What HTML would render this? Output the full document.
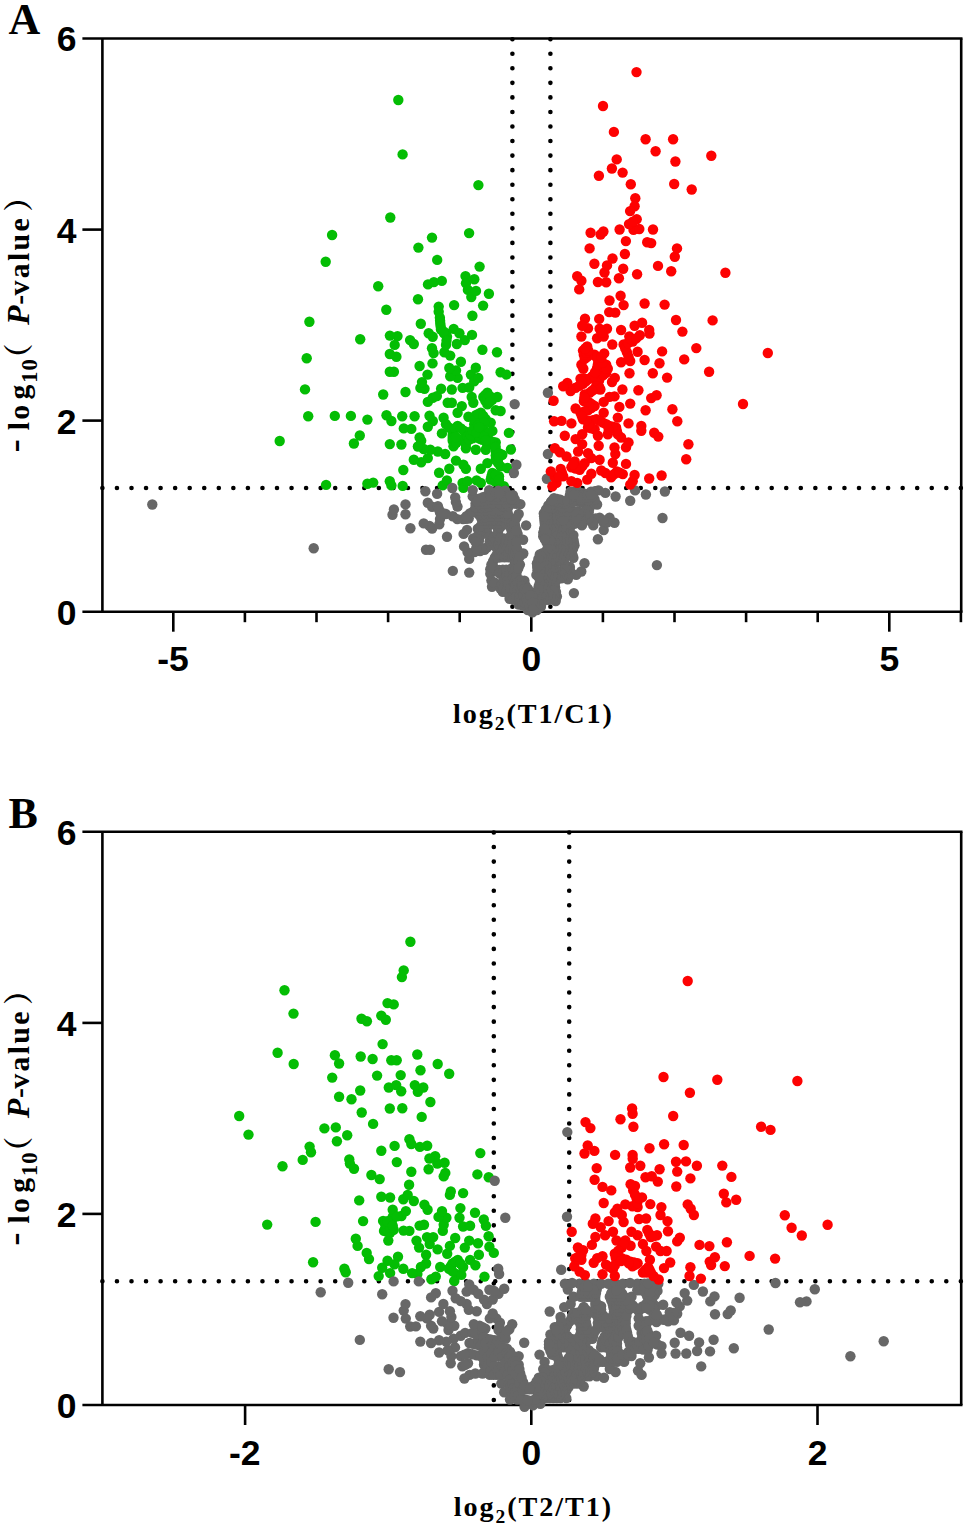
<!DOCTYPE html>
<html lang="en"><head><meta charset="utf-8"><title>Volcano plots</title>
<style>html,body{margin:0;padding:0;background:#fff}svg{display:block}</style></head><body>
<svg width="967" height="1528" viewBox="0 0 967 1528">
<rect width="967" height="1528" fill="#fff"/>
<g stroke="#000" stroke-width="4.6" stroke-linecap="round" stroke-dasharray="0 14.55" fill="none">
<path d="M102.4 488.0H961.2"/>
<path d="M512.4 39.2V611.7"/>
<path d="M550.4 39.2V611.7"/>
</g>
<g stroke="#000" stroke-width="2.6" fill="none" stroke-linecap="butt">
<path d="M82.4 38.5H962.5"/>
<path d="M102.4 38.5V611.7"/>
<path d="M961.2 38.5V611.7"/>
<path d="M82.4 611.7H962.5"/>
<path d="M82.4 420.6H102.4"/>
<path d="M82.4 229.6H102.4"/>
<path d="M173.3 611.7V631.7"/>
<path d="M531.3 611.7V631.7"/>
<path d="M889.3 611.7V631.7"/>
<path d="M244.9 611.7V622.2"/>
<path d="M316.5 611.7V622.2"/>
<path d="M388.1 611.7V622.2"/>
<path d="M459.7 611.7V622.2"/>
<path d="M602.9 611.7V622.2"/>
<path d="M674.5 611.7V622.2"/>
<path d="M746.1 611.7V622.2"/>
<path d="M817.7 611.7V622.2"/>
<path d="M960.9 611.7V622.2"/>
</g>
<g fill="#04bd04">
<circle cx="441.9" cy="433.4" r="5.2"/><circle cx="410.1" cy="340.1" r="5.2"/><circle cx="443.6" cy="417.7" r="5.2"/><circle cx="397.5" cy="336.1" r="5.2"/><circle cx="446.0" cy="424.3" r="5.2"/><circle cx="432.8" cy="397.8" r="5.2"/><circle cx="432.8" cy="421.0" r="5.2"/><circle cx="447.7" cy="402.8" r="5.2"/><circle cx="436.9" cy="396.1" r="5.2"/><circle cx="389.9" cy="335.6" r="5.2"/><circle cx="429.5" cy="415.7" r="5.2"/><circle cx="418.0" cy="299.2" r="5.2"/><circle cx="420.8" cy="323.7" r="5.2"/><circle cx="402.6" cy="154.4" r="5.2"/><circle cx="451.8" cy="402.8" r="5.2"/><circle cx="427.8" cy="401.9" r="5.2"/><circle cx="427.8" cy="426.8" r="5.2"/><circle cx="452.7" cy="430.9" r="5.2"/><circle cx="452.7" cy="440.8" r="5.2"/><circle cx="386.3" cy="309.7" r="5.2"/><circle cx="390.3" cy="217.5" r="5.2"/><circle cx="451.8" cy="389.5" r="5.2"/><circle cx="424.5" cy="388.7" r="5.2"/><circle cx="441.1" cy="388.7" r="5.2"/><circle cx="428.7" cy="333.2" r="5.2"/><circle cx="457.6" cy="412.7" r="5.2"/><circle cx="457.6" cy="425.9" r="5.2"/><circle cx="421.2" cy="440.8" r="5.2"/><circle cx="432.7" cy="336.8" r="5.2"/><circle cx="459.3" cy="439.2" r="5.2"/><circle cx="420.4" cy="387.9" r="5.2"/><circle cx="442.7" cy="485.4" r="5.2"/><circle cx="279.7" cy="441.0" r="5.2"/><circle cx="378.2" cy="286.3" r="5.2"/><circle cx="419.6" cy="437.5" r="5.2"/><circle cx="428.0" cy="284.4" r="5.2"/><circle cx="461.8" cy="406.1" r="5.2"/><circle cx="462.6" cy="387.9" r="5.2"/><circle cx="462.6" cy="482.9" r="5.2"/><circle cx="433.9" cy="282.1" r="5.2"/><circle cx="422.0" cy="382.1" r="5.2"/><circle cx="438.7" cy="306.6" r="5.2"/><circle cx="438.7" cy="311.8" r="5.2"/><circle cx="463.4" cy="487.9" r="5.2"/><circle cx="439.9" cy="317.7" r="5.2"/><circle cx="464.2" cy="430.9" r="5.2"/><circle cx="440.3" cy="323.7" r="5.2"/><circle cx="446.9" cy="480.4" r="5.2"/><circle cx="441.0" cy="329.6" r="5.2"/><circle cx="414.6" cy="416.3" r="5.2"/><circle cx="441.8" cy="280.9" r="5.2"/><circle cx="465.9" cy="440.8" r="5.2"/><circle cx="457.6" cy="377.9" r="5.2"/><circle cx="467.5" cy="481.3" r="5.2"/><circle cx="468.4" cy="416.8" r="5.2"/><circle cx="411.3" cy="428.9" r="5.2"/><circle cx="450.2" cy="376.3" r="5.2"/><circle cx="447.0" cy="336.8" r="5.2"/><circle cx="469.2" cy="387.5" r="5.2"/><circle cx="469.2" cy="432.5" r="5.2"/><circle cx="427.5" cy="374.6" r="5.2"/><circle cx="470.9" cy="374.6" r="5.2"/><circle cx="360.2" cy="339.2" r="5.2"/><circle cx="471.7" cy="397.0" r="5.2"/><circle cx="439.1" cy="472.7" r="5.2"/><circle cx="473.3" cy="402.8" r="5.2"/><circle cx="453.7" cy="328.9" r="5.2"/><circle cx="454.1" cy="305.1" r="5.2"/><circle cx="474.2" cy="381.3" r="5.2"/><circle cx="474.2" cy="424.3" r="5.2"/><circle cx="405.5" cy="392.0" r="5.2"/><circle cx="456.0" cy="370.5" r="5.2"/><circle cx="475.8" cy="415.2" r="5.2"/><circle cx="403.8" cy="428.4" r="5.2"/><circle cx="449.3" cy="468.8" r="5.2"/><circle cx="465.9" cy="468.8" r="5.2"/><circle cx="403.3" cy="470.0" r="5.2"/><circle cx="476.6" cy="480.4" r="5.2"/><circle cx="305.0" cy="389.4" r="5.2"/><circle cx="449.3" cy="368.0" r="5.2"/><circle cx="475.8" cy="367.7" r="5.2"/><circle cx="402.7" cy="485.9" r="5.2"/><circle cx="477.5" cy="437.5" r="5.2"/><circle cx="459.4" cy="333.2" r="5.2"/><circle cx="402.2" cy="416.3" r="5.2"/><circle cx="437.2" cy="259.9" r="5.2"/><circle cx="478.3" cy="377.9" r="5.2"/><circle cx="401.4" cy="444.5" r="5.2"/><circle cx="308.2" cy="416.2" r="5.2"/><circle cx="419.6" cy="366.0" r="5.2"/><circle cx="463.4" cy="464.7" r="5.2"/><circle cx="480.8" cy="412.7" r="5.2"/><circle cx="480.8" cy="482.9" r="5.2"/><circle cx="480.8" cy="468.8" r="5.2"/><circle cx="306.7" cy="358.3" r="5.2"/><circle cx="464.8" cy="340.1" r="5.2"/><circle cx="432.5" cy="363.4" r="5.2"/><circle cx="465.5" cy="276.1" r="5.2"/><circle cx="466.0" cy="283.3" r="5.2"/><circle cx="482.4" cy="425.9" r="5.2"/><circle cx="421.2" cy="462.2" r="5.2"/><circle cx="460.9" cy="361.7" r="5.2"/><circle cx="483.3" cy="397.0" r="5.2"/><circle cx="467.9" cy="289.9" r="5.2"/><circle cx="456.0" cy="460.6" r="5.2"/><circle cx="413.8" cy="459.7" r="5.2"/><circle cx="485.7" cy="419.3" r="5.2"/><circle cx="485.7" cy="434.2" r="5.2"/><circle cx="471.3" cy="297.1" r="5.2"/><circle cx="393.9" cy="371.7" r="5.2"/><circle cx="472.0" cy="334.9" r="5.2"/><circle cx="418.4" cy="247.6" r="5.2"/><circle cx="472.4" cy="315.8" r="5.2"/><circle cx="427.8" cy="458.1" r="5.2"/><circle cx="487.4" cy="392.8" r="5.2"/><circle cx="487.4" cy="404.4" r="5.2"/><circle cx="487.4" cy="463.1" r="5.2"/><circle cx="474.3" cy="279.2" r="5.2"/><circle cx="396.4" cy="356.8" r="5.2"/><circle cx="391.4" cy="421.0" r="5.2"/><circle cx="391.4" cy="485.4" r="5.2"/><circle cx="489.1" cy="440.8" r="5.2"/><circle cx="476.0" cy="290.9" r="5.2"/><circle cx="450.2" cy="355.6" r="5.2"/><circle cx="478.4" cy="185.1" r="5.2"/><circle cx="389.8" cy="371.7" r="5.2"/><circle cx="389.8" cy="444.1" r="5.2"/><circle cx="389.8" cy="481.3" r="5.2"/><circle cx="490.7" cy="422.6" r="5.2"/><circle cx="490.7" cy="479.6" r="5.2"/><circle cx="326.1" cy="484.9" r="5.2"/><circle cx="398.3" cy="100.0" r="5.2"/><circle cx="389.8" cy="354.0" r="5.2"/><circle cx="445.2" cy="454.0" r="5.2"/><circle cx="479.6" cy="266.6" r="5.2"/><circle cx="433.6" cy="353.1" r="5.2"/><circle cx="492.4" cy="399.5" r="5.2"/><circle cx="492.4" cy="430.9" r="5.2"/><circle cx="492.4" cy="473.0" r="5.2"/><circle cx="444.4" cy="352.3" r="5.2"/><circle cx="386.5" cy="415.2" r="5.2"/><circle cx="437.8" cy="451.5" r="5.2"/><circle cx="432.0" cy="237.6" r="5.2"/><circle cx="483.1" cy="305.6" r="5.2"/><circle cx="325.7" cy="261.8" r="5.2"/><circle cx="482.4" cy="349.8" r="5.2"/><circle cx="430.3" cy="449.8" r="5.2"/><circle cx="475.8" cy="449.8" r="5.2"/><circle cx="485.7" cy="449.8" r="5.2"/><circle cx="332.1" cy="235.0" r="5.2"/><circle cx="495.7" cy="410.2" r="5.2"/><circle cx="495.7" cy="442.5" r="5.2"/><circle cx="495.7" cy="451.5" r="5.2"/><circle cx="495.7" cy="459.7" r="5.2"/><circle cx="423.7" cy="449.0" r="5.2"/><circle cx="334.8" cy="415.9" r="5.2"/><circle cx="383.2" cy="394.5" r="5.2"/><circle cx="432.0" cy="348.2" r="5.2"/><circle cx="465.9" cy="448.2" r="5.2"/><circle cx="469.1" cy="233.1" r="5.2"/><circle cx="497.0" cy="352.3" r="5.2"/><circle cx="497.3" cy="397.0" r="5.2"/><circle cx="488.9" cy="293.7" r="5.2"/><circle cx="417.9" cy="446.5" r="5.2"/><circle cx="453.5" cy="446.2" r="5.2"/><circle cx="499.0" cy="476.3" r="5.2"/><circle cx="499.0" cy="482.9" r="5.2"/><circle cx="394.7" cy="344.9" r="5.2"/><circle cx="446.0" cy="344.9" r="5.2"/><circle cx="500.6" cy="372.2" r="5.2"/><circle cx="500.6" cy="411.0" r="5.2"/><circle cx="500.6" cy="466.4" r="5.2"/><circle cx="413.8" cy="344.0" r="5.2"/><circle cx="456.8" cy="344.0" r="5.2"/><circle cx="502.3" cy="454.8" r="5.2"/><circle cx="503.9" cy="486.2" r="5.2"/><circle cx="482.4" cy="439.9" r="5.2"/><circle cx="309.4" cy="321.8" r="5.2"/><circle cx="506.4" cy="374.6" r="5.2"/><circle cx="373.2" cy="482.6" r="5.2"/><circle cx="472.5" cy="438.2" r="5.2"/><circle cx="507.3" cy="468.0" r="5.2"/><circle cx="350.9" cy="415.9" r="5.2"/><circle cx="508.9" cy="432.9" r="5.2"/><circle cx="353.9" cy="443.5" r="5.2"/><circle cx="452.7" cy="434.9" r="5.2"/><circle cx="510.9" cy="449.5" r="5.2"/><circle cx="446.0" cy="333.3" r="5.2"/><circle cx="367.4" cy="419.6" r="5.2"/><circle cx="367.4" cy="483.7" r="5.2"/><circle cx="359.8" cy="435.5" r="5.2"/><circle cx="475.8" cy="428.3" r="5.2"/><circle cx="449.3" cy="427.6" r="5.2"/><circle cx="455.1" cy="428.4" r="5.2"/><circle cx="456.0" cy="440.0" r="5.2"/><circle cx="452.7" cy="437.9" r="5.2"/><circle cx="460.9" cy="428.4" r="5.2"/><circle cx="462.6" cy="440.0" r="5.2"/><circle cx="456.4" cy="442.7" r="5.2"/><circle cx="456.0" cy="437.0" r="5.2"/><circle cx="440.1" cy="320.7" r="5.2"/><circle cx="440.7" cy="326.7" r="5.2"/><circle cx="444.0" cy="333.2" r="5.2"/><circle cx="443.5" cy="331.5" r="5.2"/><circle cx="467.5" cy="436.7" r="5.2"/><circle cx="465.9" cy="444.5" r="5.2"/><circle cx="469.2" cy="439.5" r="5.2"/><circle cx="446.5" cy="340.8" r="5.2"/><circle cx="470.9" cy="435.4" r="5.2"/><circle cx="472.5" cy="430.4" r="5.2"/><circle cx="475.0" cy="419.7" r="5.2"/><circle cx="478.3" cy="425.1" r="5.2"/><circle cx="478.3" cy="413.9" r="5.2"/><circle cx="481.6" cy="435.9" r="5.2"/><circle cx="480.0" cy="438.7" r="5.2"/><circle cx="476.6" cy="432.9" r="5.2"/><circle cx="483.3" cy="416.0" r="5.2"/><circle cx="484.1" cy="422.6" r="5.2"/><circle cx="484.1" cy="430.1" r="5.2"/><circle cx="479.1" cy="427.1" r="5.2"/><circle cx="485.3" cy="394.9" r="5.2"/><circle cx="485.3" cy="400.7" r="5.2"/><circle cx="487.8" cy="398.2" r="5.2"/><circle cx="487.4" cy="437.5" r="5.2"/><circle cx="489.1" cy="432.5" r="5.2"/><circle cx="484.1" cy="437.0" r="5.2"/><circle cx="489.9" cy="396.1" r="5.2"/><circle cx="489.9" cy="401.9" r="5.2"/><circle cx="487.4" cy="445.3" r="5.2"/><circle cx="492.4" cy="441.6" r="5.2"/><circle cx="485.7" cy="440.4" r="5.2"/><circle cx="491.5" cy="476.3" r="5.2"/><circle cx="494.8" cy="477.9" r="5.2"/><circle cx="494.8" cy="481.3" r="5.2"/><circle cx="495.7" cy="474.6" r="5.2"/><circle cx="495.7" cy="447.0" r="5.2"/><circle cx="495.7" cy="455.6" r="5.2"/><circle cx="499.0" cy="453.1" r="5.2"/><circle cx="498.2" cy="463.1" r="5.2"/><circle cx="499.0" cy="457.3" r="5.2"/><circle cx="499.0" cy="479.6" r="5.2"/>
</g>
<g fill="#676767">
<circle cx="484.6" cy="549.8" r="5.2"/><circle cx="581.3" cy="571.5" r="5.2"/><circle cx="614.5" cy="522.7" r="5.2"/><circle cx="576.2" cy="574.9" r="5.2"/><circle cx="489.2" cy="545.3" r="5.2"/><circle cx="584.5" cy="563.3" r="5.2"/><circle cx="480.1" cy="536.2" r="5.2"/><circle cx="480.1" cy="551.0" r="5.2"/><circle cx="490.3" cy="537.3" r="5.2"/><circle cx="490.3" cy="569.2" r="5.2"/><circle cx="490.3" cy="573.7" r="5.2"/><circle cx="574.5" cy="545.3" r="5.2"/><circle cx="573.9" cy="593.1" r="5.2"/><circle cx="491.4" cy="564.6" r="5.2"/><circle cx="491.4" cy="580.6" r="5.2"/><circle cx="573.4" cy="535.1" r="5.2"/><circle cx="573.4" cy="539.6" r="5.2"/><circle cx="573.4" cy="557.8" r="5.2"/><circle cx="630.2" cy="500.8" r="5.2"/><circle cx="492.0" cy="586.8" r="5.2"/><circle cx="609.5" cy="517.7" r="5.2"/><circle cx="477.8" cy="545.3" r="5.2"/><circle cx="429.5" cy="525.9" r="5.2"/><circle cx="571.6" cy="552.1" r="5.2"/><circle cx="427.8" cy="502.8" r="5.2"/><circle cx="615.6" cy="496.5" r="5.2"/><circle cx="485.7" cy="530.5" r="5.2"/><circle cx="570.5" cy="574.9" r="5.2"/><circle cx="494.8" cy="544.2" r="5.2"/><circle cx="494.8" cy="557.8" r="5.2"/><circle cx="569.9" cy="566.9" r="5.2"/><circle cx="425.4" cy="491.2" r="5.2"/><circle cx="474.4" cy="552.1" r="5.2"/><circle cx="569.4" cy="531.6" r="5.2"/><circle cx="496.0" cy="570.3" r="5.2"/><circle cx="603.7" cy="530.1" r="5.2"/><circle cx="477.8" cy="528.8" r="5.2"/><circle cx="423.7" cy="523.4" r="5.2"/><circle cx="605.4" cy="492.9" r="5.2"/><circle cx="473.2" cy="538.5" r="5.2"/><circle cx="568.2" cy="545.3" r="5.2"/><circle cx="497.1" cy="537.3" r="5.2"/><circle cx="567.7" cy="579.4" r="5.2"/><circle cx="567.1" cy="538.5" r="5.2"/><circle cx="498.3" cy="530.5" r="5.2"/><circle cx="498.3" cy="552.1" r="5.2"/><circle cx="498.3" cy="585.1" r="5.2"/><circle cx="635.1" cy="490.4" r="5.2"/><circle cx="599.6" cy="517.7" r="5.2"/><circle cx="566.0" cy="552.1" r="5.2"/><circle cx="598.7" cy="490.4" r="5.2"/><circle cx="581.9" cy="525.4" r="5.2"/><circle cx="593.3" cy="525.4" r="5.2"/><circle cx="597.9" cy="539.2" r="5.2"/><circle cx="564.8" cy="524.8" r="5.2"/><circle cx="570.5" cy="524.8" r="5.2"/><circle cx="564.8" cy="565.8" r="5.2"/><circle cx="500.5" cy="557.2" r="5.2"/><circle cx="597.1" cy="504.5" r="5.2"/><circle cx="469.2" cy="572.6" r="5.2"/><circle cx="469.2" cy="558.9" r="5.2"/><circle cx="483.5" cy="523.7" r="5.2"/><circle cx="489.2" cy="523.7" r="5.2"/><circle cx="496.0" cy="523.7" r="5.2"/><circle cx="563.7" cy="558.9" r="5.2"/><circle cx="563.7" cy="572.6" r="5.2"/><circle cx="501.7" cy="544.2" r="5.2"/><circle cx="410.4" cy="528.2" r="5.2"/><circle cx="594.6" cy="499.5" r="5.2"/><circle cx="467.5" cy="552.1" r="5.2"/><circle cx="562.5" cy="531.6" r="5.2"/><circle cx="645.9" cy="494.5" r="5.2"/><circle cx="502.8" cy="523.7" r="5.2"/><circle cx="502.8" cy="569.8" r="5.2"/><circle cx="502.8" cy="576.0" r="5.2"/><circle cx="502.8" cy="591.9" r="5.2"/><circle cx="467.0" cy="529.9" r="5.2"/><circle cx="561.4" cy="545.3" r="5.2"/><circle cx="561.4" cy="578.3" r="5.2"/><circle cx="503.9" cy="538.5" r="5.2"/><circle cx="560.3" cy="538.5" r="5.2"/><circle cx="505.1" cy="552.1" r="5.2"/><circle cx="505.1" cy="584.0" r="5.2"/><circle cx="426.0" cy="549.8" r="5.2"/><circle cx="589.6" cy="507.8" r="5.2"/><circle cx="464.1" cy="546.4" r="5.2"/><circle cx="591.6" cy="519.1" r="5.2"/><circle cx="559.1" cy="552.1" r="5.2"/><circle cx="468.7" cy="518.6" r="5.2"/><circle cx="463.6" cy="533.9" r="5.2"/><circle cx="585.3" cy="518.6" r="5.2"/><circle cx="588.0" cy="494.5" r="5.2"/><circle cx="588.0" cy="516.0" r="5.2"/><circle cx="463.0" cy="519.1" r="5.2"/><circle cx="481.2" cy="518.0" r="5.2"/><circle cx="558.0" cy="518.0" r="5.2"/><circle cx="564.8" cy="518.0" r="5.2"/><circle cx="571.6" cy="518.0" r="5.2"/><circle cx="578.5" cy="518.0" r="5.2"/><circle cx="558.0" cy="524.8" r="5.2"/><circle cx="488.0" cy="516.9" r="5.2"/><circle cx="494.8" cy="516.9" r="5.2"/><circle cx="501.7" cy="516.9" r="5.2"/><circle cx="556.9" cy="558.9" r="5.2"/><circle cx="556.9" cy="572.6" r="5.2"/><circle cx="556.9" cy="596.5" r="5.2"/><circle cx="508.5" cy="518.0" r="5.2"/><circle cx="508.5" cy="545.3" r="5.2"/><circle cx="508.5" cy="557.2" r="5.2"/><circle cx="656.9" cy="565.1" r="5.2"/><circle cx="405.5" cy="504.4" r="5.2"/><circle cx="405.5" cy="514.3" r="5.2"/><circle cx="584.7" cy="502.8" r="5.2"/><circle cx="555.7" cy="531.6" r="5.2"/><circle cx="555.7" cy="601.0" r="5.2"/><circle cx="509.6" cy="524.8" r="5.2"/><circle cx="509.6" cy="539.6" r="5.2"/><circle cx="509.6" cy="569.8" r="5.2"/><circle cx="509.6" cy="577.2" r="5.2"/><circle cx="509.6" cy="591.9" r="5.2"/><circle cx="509.6" cy="598.8" r="5.2"/><circle cx="555.1" cy="587.4" r="5.2"/><circle cx="432.1" cy="528.5" r="5.2"/><circle cx="583.0" cy="512.7" r="5.2"/><circle cx="554.6" cy="545.3" r="5.2"/><circle cx="554.6" cy="567.5" r="5.2"/><circle cx="554.6" cy="579.4" r="5.2"/><circle cx="554.0" cy="538.5" r="5.2"/><circle cx="581.4" cy="492.9" r="5.2"/><circle cx="469.8" cy="513.4" r="5.2"/><circle cx="511.9" cy="531.6" r="5.2"/><circle cx="511.9" cy="553.3" r="5.2"/><circle cx="511.9" cy="585.1" r="5.2"/><circle cx="606.9" cy="522.5" r="5.2"/><circle cx="457.3" cy="519.1" r="5.2"/><circle cx="552.3" cy="552.1" r="5.2"/><circle cx="552.3" cy="593.1" r="5.2"/><circle cx="392.5" cy="514.7" r="5.2"/><circle cx="662.5" cy="518.0" r="5.2"/><circle cx="578.1" cy="522.7" r="5.2"/><circle cx="556.9" cy="511.2" r="5.2"/><circle cx="563.7" cy="511.2" r="5.2"/><circle cx="570.5" cy="511.2" r="5.2"/><circle cx="577.3" cy="511.2" r="5.2"/><circle cx="551.2" cy="518.0" r="5.2"/><circle cx="551.2" cy="524.8" r="5.2"/><circle cx="514.2" cy="521.4" r="5.2"/><circle cx="313.7" cy="548.2" r="5.2"/><circle cx="475.5" cy="510.6" r="5.2"/><circle cx="482.3" cy="510.6" r="5.2"/><circle cx="576.4" cy="501.1" r="5.2"/><circle cx="489.2" cy="510.0" r="5.2"/><circle cx="496.0" cy="510.0" r="5.2"/><circle cx="502.8" cy="510.0" r="5.2"/><circle cx="550.0" cy="511.7" r="5.2"/><circle cx="550.0" cy="558.9" r="5.2"/><circle cx="550.0" cy="565.8" r="5.2"/><circle cx="550.0" cy="572.6" r="5.2"/><circle cx="515.3" cy="527.1" r="5.2"/><circle cx="515.3" cy="545.3" r="5.2"/><circle cx="515.3" cy="565.8" r="5.2"/><circle cx="507.4" cy="509.5" r="5.2"/><circle cx="549.5" cy="531.6" r="5.2"/><circle cx="664.9" cy="491.5" r="5.2"/><circle cx="439.3" cy="524.2" r="5.2"/><circle cx="574.7" cy="491.2" r="5.2"/><circle cx="574.7" cy="514.4" r="5.2"/><circle cx="548.9" cy="546.4" r="5.2"/><circle cx="548.9" cy="599.9" r="5.2"/><circle cx="516.5" cy="558.9" r="5.2"/><circle cx="516.5" cy="572.6" r="5.2"/><circle cx="516.5" cy="579.4" r="5.2"/><circle cx="516.5" cy="593.1" r="5.2"/><circle cx="516.5" cy="599.9" r="5.2"/><circle cx="440.0" cy="512.6" r="5.2"/><circle cx="440.0" cy="519.1" r="5.2"/><circle cx="393.9" cy="509.4" r="5.2"/><circle cx="452.8" cy="516.3" r="5.2"/><circle cx="452.8" cy="570.9" r="5.2"/><circle cx="547.8" cy="579.4" r="5.2"/><circle cx="517.6" cy="533.9" r="5.2"/><circle cx="517.6" cy="538.5" r="5.2"/><circle cx="457.5" cy="506.6" r="5.2"/><circle cx="518.7" cy="514.0" r="5.2"/><circle cx="518.7" cy="552.1" r="5.2"/><circle cx="518.7" cy="586.3" r="5.2"/><circle cx="518.7" cy="604.5" r="5.2"/><circle cx="432.1" cy="506.8" r="5.2"/><circle cx="569.8" cy="495.4" r="5.2"/><circle cx="548.3" cy="505.5" r="5.2"/><circle cx="545.5" cy="552.1" r="5.2"/><circle cx="545.5" cy="586.3" r="5.2"/><circle cx="545.5" cy="593.1" r="5.2"/><circle cx="437.9" cy="506.1" r="5.2"/><circle cx="519.9" cy="564.6" r="5.2"/><circle cx="544.9" cy="524.8" r="5.2"/><circle cx="568.1" cy="502.8" r="5.2"/><circle cx="482.3" cy="504.3" r="5.2"/><circle cx="554.6" cy="504.3" r="5.2"/><circle cx="561.4" cy="504.3" r="5.2"/><circle cx="544.3" cy="519.1" r="5.2"/><circle cx="520.4" cy="504.1" r="5.2"/><circle cx="445.8" cy="514.0" r="5.2"/><circle cx="475.5" cy="503.8" r="5.2"/><circle cx="516.5" cy="503.8" r="5.2"/><circle cx="543.8" cy="513.4" r="5.2"/><circle cx="489.2" cy="503.2" r="5.2"/><circle cx="496.0" cy="503.2" r="5.2"/><circle cx="502.8" cy="503.2" r="5.2"/><circle cx="509.6" cy="503.2" r="5.2"/><circle cx="543.2" cy="536.2" r="5.2"/><circle cx="543.2" cy="558.9" r="5.2"/><circle cx="543.2" cy="565.8" r="5.2"/><circle cx="543.2" cy="572.6" r="5.2"/><circle cx="447.0" cy="536.8" r="5.2"/><circle cx="455.9" cy="502.1" r="5.2"/><circle cx="542.1" cy="599.9" r="5.2"/><circle cx="523.1" cy="539.8" r="5.2"/><circle cx="523.3" cy="553.5" r="5.2"/><circle cx="523.3" cy="591.9" r="5.2"/><circle cx="523.3" cy="598.8" r="5.2"/><circle cx="540.9" cy="579.4" r="5.2"/><circle cx="540.9" cy="606.7" r="5.2"/><circle cx="524.4" cy="580.8" r="5.2"/><circle cx="561.5" cy="522.7" r="5.2"/><circle cx="560.3" cy="499.8" r="5.2"/><circle cx="539.8" cy="554.4" r="5.2"/><circle cx="525.6" cy="585.7" r="5.2"/><circle cx="525.6" cy="605.6" r="5.2"/><circle cx="526.1" cy="525.4" r="5.2"/><circle cx="478.9" cy="498.7" r="5.2"/><circle cx="538.7" cy="586.3" r="5.2"/><circle cx="538.7" cy="593.1" r="5.2"/><circle cx="554.0" cy="498.1" r="5.2"/><circle cx="577.3" cy="497.5" r="5.2"/><circle cx="584.2" cy="497.5" r="5.2"/><circle cx="591.0" cy="497.5" r="5.2"/><circle cx="537.5" cy="570.3" r="5.2"/><circle cx="527.8" cy="610.1" r="5.2"/><circle cx="536.9" cy="563.5" r="5.2"/><circle cx="455.2" cy="497.4" r="5.2"/><circle cx="472.7" cy="496.4" r="5.2"/><circle cx="493.7" cy="496.4" r="5.2"/><circle cx="500.5" cy="496.4" r="5.2"/><circle cx="507.4" cy="496.4" r="5.2"/><circle cx="536.4" cy="574.9" r="5.2"/><circle cx="486.9" cy="495.8" r="5.2"/><circle cx="437.1" cy="493.8" r="5.2"/><circle cx="513.0" cy="495.2" r="5.2"/><circle cx="535.2" cy="599.9" r="5.2"/><circle cx="152.3" cy="504.5" r="5.2"/><circle cx="530.1" cy="591.9" r="5.2"/><circle cx="530.1" cy="598.8" r="5.2"/><circle cx="534.1" cy="606.7" r="5.2"/><circle cx="532.4" cy="612.4" r="5.2"/><circle cx="550.8" cy="502.8" r="5.2"/><circle cx="570.5" cy="491.8" r="5.2"/><circle cx="591.0" cy="491.8" r="5.2"/><circle cx="452.3" cy="488.0" r="5.2"/><circle cx="498.3" cy="490.7" r="5.2"/><circle cx="505.1" cy="490.7" r="5.2"/><circle cx="547.9" cy="392.8" r="5.2"/><circle cx="547.9" cy="454.0" r="5.2"/><circle cx="472.7" cy="490.1" r="5.2"/><circle cx="489.2" cy="490.1" r="5.2"/><circle cx="546.9" cy="478.8" r="5.2"/><circle cx="546.6" cy="542.5" r="5.2"/><circle cx="513.9" cy="473.0" r="5.2"/><circle cx="514.7" cy="404.1" r="5.2"/><circle cx="536.9" cy="610.1" r="5.2"/><circle cx="516.4" cy="464.7" r="5.2"/><circle cx="543.3" cy="532.6" r="5.2"/><circle cx="603.1" cy="521.7" r="5.2"/><circle cx="430.0" cy="549.8" r="5.2"/><circle cx="486.9" cy="547.6" r="5.2"/><circle cx="481.2" cy="547.6" r="5.2"/><circle cx="489.7" cy="541.3" r="5.2"/><circle cx="492.0" cy="544.7" r="5.2"/><circle cx="478.9" cy="540.7" r="5.2"/><circle cx="482.9" cy="533.4" r="5.2"/><circle cx="478.9" cy="532.5" r="5.2"/><circle cx="476.6" cy="537.3" r="5.2"/><circle cx="488.0" cy="533.9" r="5.2"/><circle cx="492.6" cy="540.7" r="5.2"/><circle cx="493.7" cy="537.3" r="5.2"/><circle cx="493.1" cy="569.8" r="5.2"/><circle cx="573.9" cy="542.5" r="5.2"/><circle cx="573.1" cy="548.7" r="5.2"/><circle cx="571.4" cy="545.3" r="5.2"/><circle cx="493.1" cy="561.2" r="5.2"/><circle cx="493.7" cy="567.5" r="5.2"/><circle cx="494.8" cy="582.8" r="5.2"/><circle cx="570.2" cy="536.8" r="5.2"/><circle cx="571.4" cy="535.6" r="5.2"/><circle cx="570.8" cy="542.5" r="5.2"/><circle cx="570.2" cy="539.0" r="5.2"/><circle cx="572.5" cy="555.0" r="5.2"/><circle cx="569.7" cy="555.0" r="5.2"/><circle cx="476.1" cy="548.7" r="5.2"/><circle cx="475.5" cy="541.9" r="5.2"/><circle cx="569.9" cy="548.7" r="5.2"/><circle cx="568.8" cy="552.1" r="5.2"/><circle cx="481.8" cy="529.7" r="5.2"/><circle cx="484.6" cy="527.1" r="5.2"/><circle cx="487.5" cy="527.1" r="5.2"/><circle cx="570.2" cy="570.9" r="5.2"/><circle cx="567.1" cy="573.7" r="5.2"/><circle cx="496.0" cy="540.7" r="5.2"/><circle cx="496.6" cy="548.1" r="5.2"/><circle cx="498.3" cy="544.2" r="5.2"/><circle cx="496.6" cy="555.0" r="5.2"/><circle cx="497.7" cy="557.5" r="5.2"/><circle cx="566.8" cy="569.8" r="5.2"/><circle cx="568.2" cy="535.1" r="5.2"/><circle cx="567.1" cy="528.2" r="5.2"/><circle cx="569.9" cy="528.2" r="5.2"/><circle cx="566.0" cy="531.6" r="5.2"/><circle cx="499.4" cy="570.0" r="5.2"/><circle cx="499.4" cy="573.2" r="5.2"/><circle cx="480.6" cy="526.2" r="5.2"/><circle cx="567.7" cy="541.9" r="5.2"/><circle cx="567.1" cy="548.7" r="5.2"/><circle cx="564.8" cy="545.3" r="5.2"/><circle cx="497.7" cy="533.9" r="5.2"/><circle cx="499.4" cy="540.7" r="5.2"/><circle cx="500.5" cy="537.9" r="5.2"/><circle cx="564.8" cy="535.1" r="5.2"/><circle cx="564.2" cy="541.9" r="5.2"/><circle cx="563.7" cy="538.5" r="5.2"/><circle cx="497.1" cy="527.1" r="5.2"/><circle cx="500.5" cy="527.1" r="5.2"/><circle cx="499.4" cy="554.7" r="5.2"/><circle cx="500.0" cy="548.1" r="5.2"/><circle cx="501.7" cy="552.1" r="5.2"/><circle cx="500.5" cy="588.5" r="5.2"/><circle cx="501.7" cy="584.5" r="5.2"/><circle cx="595.6" cy="518.4" r="5.2"/><circle cx="603.2" cy="520.1" r="5.2"/><circle cx="564.8" cy="555.5" r="5.2"/><circle cx="563.7" cy="548.7" r="5.2"/><circle cx="562.5" cy="552.1" r="5.2"/><circle cx="594.9" cy="491.1" r="5.2"/><circle cx="583.6" cy="522.0" r="5.2"/><circle cx="580.2" cy="521.7" r="5.2"/><circle cx="592.4" cy="522.3" r="5.2"/><circle cx="567.7" cy="524.8" r="5.2"/><circle cx="563.7" cy="528.2" r="5.2"/><circle cx="564.8" cy="521.4" r="5.2"/><circle cx="561.4" cy="524.8" r="5.2"/><circle cx="567.7" cy="521.4" r="5.2"/><circle cx="571.1" cy="521.4" r="5.2"/><circle cx="574.3" cy="523.7" r="5.2"/><circle cx="566.0" cy="523.7" r="5.2"/><circle cx="564.2" cy="562.4" r="5.2"/><circle cx="564.2" cy="569.2" r="5.2"/><circle cx="502.8" cy="554.7" r="5.2"/><circle cx="504.5" cy="557.2" r="5.2"/><circle cx="486.3" cy="523.7" r="5.2"/><circle cx="482.3" cy="520.8" r="5.2"/><circle cx="485.7" cy="520.3" r="5.2"/><circle cx="492.6" cy="523.7" r="5.2"/><circle cx="488.6" cy="520.3" r="5.2"/><circle cx="492.0" cy="520.3" r="5.2"/><circle cx="499.4" cy="523.7" r="5.2"/><circle cx="495.4" cy="520.3" r="5.2"/><circle cx="498.8" cy="520.3" r="5.2"/><circle cx="561.4" cy="555.5" r="5.2"/><circle cx="560.3" cy="558.9" r="5.2"/><circle cx="562.5" cy="575.4" r="5.2"/><circle cx="560.3" cy="572.6" r="5.2"/><circle cx="502.8" cy="541.3" r="5.2"/><circle cx="503.4" cy="548.1" r="5.2"/><circle cx="505.1" cy="544.7" r="5.2"/><circle cx="505.7" cy="541.9" r="5.2"/><circle cx="591.3" cy="497.0" r="5.2"/><circle cx="592.8" cy="495.7" r="5.2"/><circle cx="561.4" cy="535.1" r="5.2"/><circle cx="560.3" cy="528.2" r="5.2"/><circle cx="559.1" cy="531.6" r="5.2"/><circle cx="562.0" cy="527.1" r="5.2"/><circle cx="502.2" cy="520.3" r="5.2"/><circle cx="505.7" cy="520.8" r="5.2"/><circle cx="506.2" cy="524.2" r="5.2"/><circle cx="502.8" cy="572.9" r="5.2"/><circle cx="506.2" cy="569.8" r="5.2"/><circle cx="503.9" cy="580.0" r="5.2"/><circle cx="506.2" cy="572.9" r="5.2"/><circle cx="506.2" cy="576.6" r="5.2"/><circle cx="503.9" cy="588.0" r="5.2"/><circle cx="506.2" cy="591.9" r="5.2"/><circle cx="560.8" cy="541.9" r="5.2"/><circle cx="560.3" cy="548.7" r="5.2"/><circle cx="558.0" cy="545.3" r="5.2"/><circle cx="559.1" cy="575.4" r="5.2"/><circle cx="558.0" cy="578.9" r="5.2"/><circle cx="506.2" cy="541.9" r="5.2"/><circle cx="506.8" cy="539.0" r="5.2"/><circle cx="558.0" cy="535.1" r="5.2"/><circle cx="557.4" cy="541.9" r="5.2"/><circle cx="557.1" cy="538.5" r="5.2"/><circle cx="506.8" cy="548.7" r="5.2"/><circle cx="506.8" cy="554.7" r="5.2"/><circle cx="508.5" cy="552.7" r="5.2"/><circle cx="507.4" cy="580.6" r="5.2"/><circle cx="507.4" cy="588.0" r="5.2"/><circle cx="508.5" cy="584.5" r="5.2"/><circle cx="588.8" cy="511.9" r="5.2"/><circle cx="587.2" cy="505.3" r="5.2"/><circle cx="586.3" cy="510.2" r="5.2"/><circle cx="588.4" cy="518.8" r="5.2"/><circle cx="558.0" cy="555.5" r="5.2"/><circle cx="556.9" cy="548.7" r="5.2"/><circle cx="555.7" cy="552.1" r="5.2"/><circle cx="465.8" cy="518.8" r="5.2"/><circle cx="581.9" cy="518.3" r="5.2"/><circle cx="584.2" cy="515.6" r="5.2"/><circle cx="581.7" cy="520.6" r="5.2"/><circle cx="586.3" cy="498.7" r="5.2"/><circle cx="584.7" cy="493.7" r="5.2"/><circle cx="585.5" cy="514.4" r="5.2"/><circle cx="466.4" cy="516.3" r="5.2"/><circle cx="484.6" cy="517.4" r="5.2"/><circle cx="478.4" cy="514.3" r="5.2"/><circle cx="481.8" cy="514.3" r="5.2"/><circle cx="561.4" cy="518.0" r="5.2"/><circle cx="558.0" cy="521.4" r="5.2"/><circle cx="557.4" cy="514.6" r="5.2"/><circle cx="560.8" cy="514.6" r="5.2"/><circle cx="554.6" cy="518.0" r="5.2"/><circle cx="559.8" cy="520.3" r="5.2"/><circle cx="568.2" cy="518.0" r="5.2"/><circle cx="564.2" cy="514.6" r="5.2"/><circle cx="567.7" cy="514.6" r="5.2"/><circle cx="563.2" cy="520.3" r="5.2"/><circle cx="575.1" cy="518.0" r="5.2"/><circle cx="574.8" cy="520.3" r="5.2"/><circle cx="571.1" cy="514.6" r="5.2"/><circle cx="574.5" cy="514.6" r="5.2"/><circle cx="580.7" cy="515.4" r="5.2"/><circle cx="577.9" cy="514.6" r="5.2"/><circle cx="556.9" cy="528.2" r="5.2"/><circle cx="554.6" cy="524.8" r="5.2"/><circle cx="491.4" cy="516.9" r="5.2"/><circle cx="485.2" cy="513.7" r="5.2"/><circle cx="488.6" cy="513.4" r="5.2"/><circle cx="498.3" cy="516.9" r="5.2"/><circle cx="492.0" cy="513.4" r="5.2"/><circle cx="495.4" cy="513.4" r="5.2"/><circle cx="505.1" cy="517.4" r="5.2"/><circle cx="498.8" cy="513.4" r="5.2"/><circle cx="502.2" cy="513.4" r="5.2"/><circle cx="504.5" cy="513.2" r="5.2"/><circle cx="555.7" cy="563.2" r="5.2"/><circle cx="554.6" cy="555.5" r="5.2"/><circle cx="553.4" cy="558.9" r="5.2"/><circle cx="555.7" cy="570.0" r="5.2"/><circle cx="555.7" cy="576.0" r="5.2"/><circle cx="553.4" cy="572.6" r="5.2"/><circle cx="556.0" cy="591.9" r="5.2"/><circle cx="554.6" cy="594.8" r="5.2"/><circle cx="552.9" cy="598.2" r="5.2"/><circle cx="509.1" cy="521.4" r="5.2"/><circle cx="511.3" cy="519.7" r="5.2"/><circle cx="507.9" cy="513.7" r="5.2"/><circle cx="509.1" cy="542.5" r="5.2"/><circle cx="510.2" cy="549.3" r="5.2"/><circle cx="511.9" cy="545.3" r="5.2"/><circle cx="512.5" cy="558.1" r="5.2"/><circle cx="580.5" cy="502.0" r="5.2"/><circle cx="581.0" cy="500.2" r="5.2"/><circle cx="587.8" cy="500.2" r="5.2"/><circle cx="554.9" cy="535.1" r="5.2"/><circle cx="553.4" cy="528.2" r="5.2"/><circle cx="552.6" cy="531.6" r="5.2"/><circle cx="510.8" cy="528.2" r="5.2"/><circle cx="511.9" cy="523.1" r="5.2"/><circle cx="512.5" cy="526.0" r="5.2"/><circle cx="510.8" cy="535.6" r="5.2"/><circle cx="512.5" cy="542.5" r="5.2"/><circle cx="513.6" cy="539.0" r="5.2"/><circle cx="509.6" cy="573.5" r="5.2"/><circle cx="512.5" cy="567.8" r="5.2"/><circle cx="513.0" cy="571.2" r="5.2"/><circle cx="510.8" cy="581.1" r="5.2"/><circle cx="513.0" cy="574.9" r="5.2"/><circle cx="513.0" cy="578.3" r="5.2"/><circle cx="509.6" cy="595.4" r="5.2"/><circle cx="510.8" cy="588.5" r="5.2"/><circle cx="513.0" cy="592.5" r="5.2"/><circle cx="513.0" cy="595.9" r="5.2"/><circle cx="513.0" cy="599.3" r="5.2"/><circle cx="554.9" cy="583.4" r="5.2"/><circle cx="553.7" cy="590.2" r="5.2"/><circle cx="580.2" cy="511.9" r="5.2"/><circle cx="578.9" cy="513.6" r="5.2"/><circle cx="554.3" cy="541.9" r="5.2"/><circle cx="553.4" cy="548.7" r="5.2"/><circle cx="551.7" cy="545.9" r="5.2"/><circle cx="550.6" cy="543.9" r="5.2"/><circle cx="552.3" cy="570.0" r="5.2"/><circle cx="552.3" cy="576.0" r="5.2"/><circle cx="551.2" cy="579.4" r="5.2"/><circle cx="551.7" cy="535.1" r="5.2"/><circle cx="551.5" cy="542.5" r="5.2"/><circle cx="550.3" cy="540.5" r="5.2"/><circle cx="578.1" cy="492.0" r="5.2"/><circle cx="579.3" cy="495.2" r="5.2"/><circle cx="472.7" cy="512.0" r="5.2"/><circle cx="513.6" cy="529.4" r="5.2"/><circle cx="514.8" cy="532.8" r="5.2"/><circle cx="514.8" cy="535.1" r="5.2"/><circle cx="513.6" cy="549.3" r="5.2"/><circle cx="514.2" cy="556.1" r="5.2"/><circle cx="515.3" cy="552.7" r="5.2"/><circle cx="514.2" cy="582.3" r="5.2"/><circle cx="514.2" cy="589.1" r="5.2"/><circle cx="515.3" cy="585.7" r="5.2"/><circle cx="551.2" cy="555.5" r="5.2"/><circle cx="550.6" cy="549.3" r="5.2"/><circle cx="548.9" cy="552.1" r="5.2"/><circle cx="550.6" cy="596.5" r="5.2"/><circle cx="548.9" cy="593.1" r="5.2"/><circle cx="576.4" cy="518.5" r="5.2"/><circle cx="560.3" cy="511.2" r="5.2"/><circle cx="554.0" cy="514.6" r="5.2"/><circle cx="553.4" cy="511.5" r="5.2"/><circle cx="555.7" cy="507.8" r="5.2"/><circle cx="559.1" cy="507.8" r="5.2"/><circle cx="567.1" cy="511.2" r="5.2"/><circle cx="565.9" cy="507.0" r="5.2"/><circle cx="562.5" cy="507.8" r="5.2"/><circle cx="573.9" cy="511.2" r="5.2"/><circle cx="569.3" cy="507.0" r="5.2"/><circle cx="551.2" cy="521.4" r="5.2"/><circle cx="550.6" cy="514.9" r="5.2"/><circle cx="548.0" cy="521.4" r="5.2"/><circle cx="547.8" cy="518.6" r="5.2"/><circle cx="547.5" cy="515.7" r="5.2"/><circle cx="550.3" cy="528.2" r="5.2"/><circle cx="548.0" cy="524.8" r="5.2"/><circle cx="547.8" cy="522.0" r="5.2"/><circle cx="514.8" cy="524.2" r="5.2"/><circle cx="516.5" cy="517.7" r="5.2"/><circle cx="478.9" cy="510.6" r="5.2"/><circle cx="478.9" cy="507.5" r="5.2"/><circle cx="475.5" cy="507.2" r="5.2"/><circle cx="485.7" cy="510.3" r="5.2"/><circle cx="482.3" cy="507.5" r="5.2"/><circle cx="573.1" cy="498.2" r="5.2"/><circle cx="572.3" cy="502.0" r="5.2"/><circle cx="580.3" cy="499.3" r="5.2"/><circle cx="492.6" cy="510.0" r="5.2"/><circle cx="485.7" cy="507.2" r="5.2"/><circle cx="489.2" cy="506.6" r="5.2"/><circle cx="499.4" cy="510.0" r="5.2"/><circle cx="496.0" cy="506.6" r="5.2"/><circle cx="502.8" cy="506.6" r="5.2"/><circle cx="549.2" cy="508.6" r="5.2"/><circle cx="552.3" cy="508.0" r="5.2"/><circle cx="547.2" cy="515.4" r="5.2"/><circle cx="546.9" cy="512.6" r="5.2"/><circle cx="550.4" cy="507.3" r="5.2"/><circle cx="550.0" cy="562.4" r="5.2"/><circle cx="547.8" cy="555.5" r="5.2"/><circle cx="546.6" cy="558.9" r="5.2"/><circle cx="550.0" cy="569.2" r="5.2"/><circle cx="546.6" cy="565.8" r="5.2"/><circle cx="548.9" cy="576.0" r="5.2"/><circle cx="546.6" cy="572.6" r="5.2"/><circle cx="516.5" cy="530.5" r="5.2"/><circle cx="516.5" cy="541.9" r="5.2"/><circle cx="517.0" cy="548.7" r="5.2"/><circle cx="515.9" cy="562.4" r="5.2"/><circle cx="515.9" cy="569.2" r="5.2"/><circle cx="505.1" cy="506.3" r="5.2"/><circle cx="508.5" cy="506.3" r="5.2"/><circle cx="547.2" cy="528.2" r="5.2"/><circle cx="546.3" cy="533.9" r="5.2"/><circle cx="546.4" cy="532.1" r="5.2"/><circle cx="572.3" cy="493.3" r="5.2"/><circle cx="576.0" cy="494.4" r="5.2"/><circle cx="547.2" cy="549.3" r="5.2"/><circle cx="547.2" cy="596.5" r="5.2"/><circle cx="545.5" cy="599.9" r="5.2"/><circle cx="517.6" cy="555.5" r="5.2"/><circle cx="518.2" cy="561.8" r="5.2"/><circle cx="519.9" cy="556.2" r="5.2"/><circle cx="516.5" cy="576.0" r="5.2"/><circle cx="518.2" cy="568.6" r="5.2"/><circle cx="517.6" cy="582.8" r="5.2"/><circle cx="520.4" cy="580.1" r="5.2"/><circle cx="516.5" cy="596.5" r="5.2"/><circle cx="517.6" cy="589.7" r="5.2"/><circle cx="519.9" cy="592.5" r="5.2"/><circle cx="519.9" cy="595.9" r="5.2"/><circle cx="519.9" cy="599.3" r="5.2"/><circle cx="438.9" cy="509.3" r="5.2"/><circle cx="442.9" cy="513.3" r="5.2"/><circle cx="546.6" cy="582.8" r="5.2"/><circle cx="545.5" cy="576.0" r="5.2"/><circle cx="544.3" cy="579.4" r="5.2"/><circle cx="521.0" cy="589.1" r="5.2"/><circle cx="521.6" cy="583.5" r="5.2"/><circle cx="522.2" cy="586.0" r="5.2"/><circle cx="521.0" cy="601.6" r="5.2"/><circle cx="522.2" cy="605.0" r="5.2"/><circle cx="569.0" cy="499.1" r="5.2"/><circle cx="573.6" cy="496.4" r="5.2"/><circle cx="551.5" cy="504.9" r="5.2"/><circle cx="546.0" cy="509.5" r="5.2"/><circle cx="551.2" cy="501.8" r="5.2"/><circle cx="544.3" cy="555.5" r="5.2"/><circle cx="542.6" cy="553.3" r="5.2"/><circle cx="545.5" cy="589.7" r="5.2"/><circle cx="543.2" cy="582.8" r="5.2"/><circle cx="542.1" cy="586.3" r="5.2"/><circle cx="543.8" cy="596.5" r="5.2"/><circle cx="542.1" cy="593.1" r="5.2"/><circle cx="544.6" cy="522.0" r="5.2"/><circle cx="544.1" cy="528.7" r="5.2"/><circle cx="564.8" cy="503.6" r="5.2"/><circle cx="564.2" cy="501.3" r="5.2"/><circle cx="478.9" cy="504.1" r="5.2"/><circle cx="485.7" cy="503.8" r="5.2"/><circle cx="480.6" cy="501.5" r="5.2"/><circle cx="558.0" cy="504.3" r="5.2"/><circle cx="557.4" cy="502.1" r="5.2"/><circle cx="554.3" cy="501.2" r="5.2"/><circle cx="544.1" cy="516.3" r="5.2"/><circle cx="477.2" cy="501.2" r="5.2"/><circle cx="513.0" cy="503.5" r="5.2"/><circle cx="514.8" cy="499.5" r="5.2"/><circle cx="492.6" cy="503.2" r="5.2"/><circle cx="491.4" cy="499.8" r="5.2"/><circle cx="488.0" cy="499.5" r="5.2"/><circle cx="499.4" cy="503.2" r="5.2"/><circle cx="494.8" cy="499.8" r="5.2"/><circle cx="498.3" cy="499.8" r="5.2"/><circle cx="506.2" cy="503.2" r="5.2"/><circle cx="501.7" cy="499.8" r="5.2"/><circle cx="505.1" cy="499.8" r="5.2"/><circle cx="508.5" cy="499.8" r="5.2"/><circle cx="511.3" cy="499.2" r="5.2"/><circle cx="544.9" cy="539.4" r="5.2"/><circle cx="543.2" cy="562.4" r="5.2"/><circle cx="541.5" cy="556.7" r="5.2"/><circle cx="540.1" cy="561.2" r="5.2"/><circle cx="543.2" cy="569.2" r="5.2"/><circle cx="540.4" cy="568.0" r="5.2"/><circle cx="540.1" cy="564.6" r="5.2"/><circle cx="542.1" cy="576.0" r="5.2"/><circle cx="540.4" cy="571.5" r="5.2"/><circle cx="539.8" cy="573.7" r="5.2"/><circle cx="541.5" cy="603.3" r="5.2"/><circle cx="540.4" cy="596.5" r="5.2"/><circle cx="538.7" cy="599.9" r="5.2"/><circle cx="523.3" cy="595.4" r="5.2"/><circle cx="524.4" cy="588.8" r="5.2"/><circle cx="526.7" cy="591.9" r="5.2"/><circle cx="524.4" cy="602.2" r="5.2"/><circle cx="526.7" cy="598.8" r="5.2"/><circle cx="539.8" cy="582.8" r="5.2"/><circle cx="538.7" cy="577.2" r="5.2"/><circle cx="538.1" cy="603.3" r="5.2"/><circle cx="537.5" cy="606.7" r="5.2"/><circle cx="557.1" cy="498.9" r="5.2"/><circle cx="538.4" cy="558.9" r="5.2"/><circle cx="527.8" cy="588.8" r="5.2"/><circle cx="527.8" cy="602.2" r="5.2"/><circle cx="529.8" cy="606.2" r="5.2"/><circle cx="482.9" cy="497.2" r="5.2"/><circle cx="538.7" cy="589.7" r="5.2"/><circle cx="536.9" cy="596.5" r="5.2"/><circle cx="534.4" cy="592.5" r="5.2"/><circle cx="552.4" cy="500.4" r="5.2"/><circle cx="580.7" cy="497.5" r="5.2"/><circle cx="573.9" cy="494.7" r="5.2"/><circle cx="587.6" cy="497.5" r="5.2"/><circle cx="587.6" cy="494.7" r="5.2"/><circle cx="591.0" cy="494.7" r="5.2"/><circle cx="537.2" cy="566.9" r="5.2"/><circle cx="531.0" cy="608.4" r="5.2"/><circle cx="532.4" cy="610.1" r="5.2"/><circle cx="497.1" cy="496.4" r="5.2"/><circle cx="490.3" cy="496.1" r="5.2"/><circle cx="496.0" cy="493.5" r="5.2"/><circle cx="503.9" cy="496.4" r="5.2"/><circle cx="499.4" cy="493.5" r="5.2"/><circle cx="510.2" cy="495.8" r="5.2"/><circle cx="532.7" cy="595.9" r="5.2"/><circle cx="534.7" cy="603.3" r="5.2"/><circle cx="530.1" cy="595.4" r="5.2"/><circle cx="532.1" cy="602.7" r="5.2"/><circle cx="533.2" cy="609.6" r="5.2"/>
</g>
<g fill="#fd0202">
<circle cx="620.6" cy="295.7" r="5.2"/><circle cx="619.4" cy="406.9" r="5.2"/><circle cx="621.1" cy="330.0" r="5.2"/><circle cx="621.1" cy="437.5" r="5.2"/><circle cx="617.8" cy="417.6" r="5.2"/><circle cx="617.8" cy="434.2" r="5.2"/><circle cx="674.2" cy="184.0" r="5.2"/><circle cx="623.6" cy="305.1" r="5.2"/><circle cx="675.4" cy="161.5" r="5.2"/><circle cx="616.1" cy="427.5" r="5.2"/><circle cx="615.3" cy="312.6" r="5.2"/><circle cx="743.0" cy="404.0" r="5.2"/><circle cx="614.5" cy="396.4" r="5.2"/><circle cx="628.5" cy="423.4" r="5.2"/><circle cx="630.2" cy="403.6" r="5.2"/><circle cx="655.6" cy="151.2" r="5.2"/><circle cx="609.5" cy="300.5" r="5.2"/><circle cx="622.4" cy="389.5" r="5.2"/><circle cx="609.5" cy="396.9" r="5.2"/><circle cx="609.5" cy="425.9" r="5.2"/><circle cx="609.2" cy="312.1" r="5.2"/><circle cx="618.9" cy="278.2" r="5.2"/><circle cx="607.8" cy="434.2" r="5.2"/><circle cx="607.0" cy="328.8" r="5.2"/><circle cx="606.2" cy="282.3" r="5.2"/><circle cx="634.6" cy="325.8" r="5.2"/><circle cx="691.7" cy="189.5" r="5.2"/><circle cx="603.7" cy="401.9" r="5.2"/><circle cx="603.7" cy="412.7" r="5.2"/><circle cx="637.1" cy="274.2" r="5.2"/><circle cx="602.9" cy="422.6" r="5.2"/><circle cx="767.8" cy="353.0" r="5.2"/><circle cx="604.5" cy="272.5" r="5.2"/><circle cx="612.0" cy="382.0" r="5.2"/><circle cx="638.4" cy="390.3" r="5.2"/><circle cx="645.6" cy="139.2" r="5.2"/><circle cx="673.1" cy="139.2" r="5.2"/><circle cx="600.4" cy="389.5" r="5.2"/><circle cx="599.6" cy="328.8" r="5.2"/><circle cx="599.2" cy="318.9" r="5.2"/><circle cx="725.4" cy="272.8" r="5.2"/><circle cx="623.2" cy="268.7" r="5.2"/><circle cx="641.3" cy="425.9" r="5.2"/><circle cx="597.9" cy="282.0" r="5.2"/><circle cx="642.1" cy="322.8" r="5.2"/><circle cx="614.8" cy="377.9" r="5.2"/><circle cx="597.9" cy="383.7" r="5.2"/><circle cx="597.9" cy="435.8" r="5.2"/><circle cx="600.4" cy="377.1" r="5.2"/><circle cx="596.3" cy="419.3" r="5.2"/><circle cx="636.7" cy="219.3" r="5.2"/><circle cx="607.0" cy="265.4" r="5.2"/><circle cx="644.6" cy="303.5" r="5.2"/><circle cx="635.3" cy="198.3" r="5.2"/><circle cx="594.6" cy="388.7" r="5.2"/><circle cx="594.6" cy="406.0" r="5.2"/><circle cx="594.6" cy="429.2" r="5.2"/><circle cx="630.2" cy="484.6" r="5.2"/><circle cx="645.6" cy="410.2" r="5.2"/><circle cx="634.6" cy="206.3" r="5.2"/><circle cx="594.4" cy="263.8" r="5.2"/><circle cx="596.3" cy="373.8" r="5.2"/><circle cx="629.5" cy="373.3" r="5.2"/><circle cx="592.9" cy="376.3" r="5.2"/><circle cx="606.2" cy="372.9" r="5.2"/><circle cx="630.8" cy="184.2" r="5.2"/><circle cx="632.7" cy="481.3" r="5.2"/><circle cx="630.1" cy="211.1" r="5.2"/><circle cx="649.2" cy="330.0" r="5.2"/><circle cx="711.3" cy="155.8" r="5.2"/><circle cx="589.6" cy="392.8" r="5.2"/><circle cx="589.6" cy="402.7" r="5.2"/><circle cx="589.6" cy="420.9" r="5.2"/><circle cx="651.2" cy="398.1" r="5.2"/><circle cx="607.8" cy="368.8" r="5.2"/><circle cx="588.8" cy="378.7" r="5.2"/><circle cx="612.5" cy="258.5" r="5.2"/><circle cx="649.2" cy="478.5" r="5.2"/><circle cx="588.0" cy="328.3" r="5.2"/><circle cx="597.1" cy="368.0" r="5.2"/><circle cx="588.0" cy="410.2" r="5.2"/><circle cx="588.0" cy="427.5" r="5.2"/><circle cx="712.6" cy="320.4" r="5.2"/><circle cx="652.8" cy="373.3" r="5.2"/><circle cx="611.1" cy="477.2" r="5.2"/><circle cx="587.2" cy="479.6" r="5.2"/><circle cx="654.2" cy="432.8" r="5.2"/><circle cx="622.6" cy="172.6" r="5.2"/><circle cx="585.0" cy="318.7" r="5.2"/><circle cx="634.6" cy="475.0" r="5.2"/><circle cx="606.2" cy="364.7" r="5.2"/><circle cx="584.7" cy="394.5" r="5.2"/><circle cx="709.1" cy="371.7" r="5.2"/><circle cx="624.9" cy="254.0" r="5.2"/><circle cx="583.8" cy="401.1" r="5.2"/><circle cx="591.3" cy="473.8" r="5.2"/><circle cx="656.6" cy="395.3" r="5.2"/><circle cx="583.3" cy="368.8" r="5.2"/><circle cx="583.0" cy="383.7" r="5.2"/><circle cx="583.0" cy="419.3" r="5.2"/><circle cx="605.4" cy="473.0" r="5.2"/><circle cx="582.2" cy="325.8" r="5.2"/><circle cx="621.1" cy="362.2" r="5.2"/><circle cx="582.2" cy="434.2" r="5.2"/><circle cx="658.0" cy="265.9" r="5.2"/><circle cx="658.3" cy="436.6" r="5.2"/><circle cx="581.4" cy="280.8" r="5.2"/><circle cx="581.4" cy="364.7" r="5.2"/><circle cx="616.9" cy="471.4" r="5.2"/><circle cx="616.7" cy="159.4" r="5.2"/><circle cx="630.2" cy="361.0" r="5.2"/><circle cx="659.5" cy="363.3" r="5.2"/><circle cx="598.7" cy="360.5" r="5.2"/><circle cx="580.5" cy="378.7" r="5.2"/><circle cx="580.5" cy="412.7" r="5.2"/><circle cx="601.2" cy="470.5" r="5.2"/><circle cx="644.6" cy="360.0" r="5.2"/><circle cx="579.7" cy="469.7" r="5.2"/><circle cx="613.9" cy="131.9" r="5.2"/><circle cx="579.2" cy="289.4" r="5.2"/><circle cx="584.7" cy="358.9" r="5.2"/><circle cx="589.6" cy="248.4" r="5.2"/><circle cx="661.6" cy="475.5" r="5.2"/><circle cx="611.9" cy="168.5" r="5.2"/><circle cx="577.2" cy="276.2" r="5.2"/><circle cx="577.2" cy="482.9" r="5.2"/><circle cx="575.6" cy="387.8" r="5.2"/><circle cx="575.6" cy="408.5" r="5.2"/><circle cx="575.6" cy="439.1" r="5.2"/><circle cx="664.6" cy="304.6" r="5.2"/><circle cx="589.6" cy="354.7" r="5.2"/><circle cx="594.6" cy="354.7" r="5.2"/><circle cx="626.0" cy="463.9" r="5.2"/><circle cx="604.2" cy="353.4" r="5.2"/><circle cx="651.2" cy="243.1" r="5.2"/><circle cx="584.7" cy="463.1" r="5.2"/><circle cx="667.1" cy="377.6" r="5.2"/><circle cx="696.3" cy="348.1" r="5.2"/><circle cx="612.8" cy="462.8" r="5.2"/><circle cx="647.2" cy="242.3" r="5.2"/><circle cx="626.9" cy="352.3" r="5.2"/><circle cx="637.6" cy="351.8" r="5.2"/><circle cx="662.1" cy="351.4" r="5.2"/><circle cx="571.4" cy="423.4" r="5.2"/><circle cx="574.7" cy="461.4" r="5.2"/><circle cx="571.4" cy="467.2" r="5.2"/><circle cx="571.4" cy="481.3" r="5.2"/><circle cx="603.0" cy="106.0" r="5.2"/><circle cx="625.9" cy="241.1" r="5.2"/><circle cx="583.0" cy="350.6" r="5.2"/><circle cx="570.6" cy="391.1" r="5.2"/><circle cx="599.6" cy="459.8" r="5.2"/><circle cx="671.2" cy="271.2" r="5.2"/><circle cx="598.9" cy="175.8" r="5.2"/><circle cx="591.3" cy="458.1" r="5.2"/><circle cx="672.4" cy="409.3" r="5.2"/><circle cx="567.3" cy="382.9" r="5.2"/><circle cx="587.2" cy="346.5" r="5.2"/><circle cx="566.5" cy="456.5" r="5.2"/><circle cx="688.4" cy="444.3" r="5.2"/><circle cx="674.8" cy="256.7" r="5.2"/><circle cx="564.8" cy="435.8" r="5.2"/><circle cx="600.6" cy="234.5" r="5.2"/><circle cx="623.6" cy="344.5" r="5.2"/><circle cx="612.3" cy="344.5" r="5.2"/><circle cx="676.0" cy="320.0" r="5.2"/><circle cx="615.3" cy="454.0" r="5.2"/><circle cx="686.2" cy="459.3" r="5.2"/><circle cx="563.2" cy="386.2" r="5.2"/><circle cx="588.0" cy="453.2" r="5.2"/><circle cx="563.2" cy="476.3" r="5.2"/><circle cx="677.0" cy="248.4" r="5.2"/><circle cx="590.6" cy="232.8" r="5.2"/><circle cx="677.3" cy="421.3" r="5.2"/><circle cx="684.2" cy="359.4" r="5.2"/><circle cx="603.4" cy="231.5" r="5.2"/><circle cx="632.7" cy="341.5" r="5.2"/><circle cx="561.5" cy="420.9" r="5.2"/><circle cx="578.1" cy="451.5" r="5.2"/><circle cx="560.7" cy="468.9" r="5.2"/><circle cx="682.4" cy="331.6" r="5.2"/><circle cx="633.5" cy="229.9" r="5.2"/><circle cx="559.9" cy="452.3" r="5.2"/><circle cx="619.6" cy="229.5" r="5.2"/><circle cx="653.0" cy="229.5" r="5.2"/><circle cx="639.3" cy="229.0" r="5.2"/><circle cx="597.1" cy="338.2" r="5.2"/><circle cx="626.0" cy="447.4" r="5.2"/><circle cx="614.5" cy="447.4" r="5.2"/><circle cx="629.3" cy="336.5" r="5.2"/><circle cx="581.4" cy="336.5" r="5.2"/><circle cx="603.7" cy="336.5" r="5.2"/><circle cx="556.5" cy="482.9" r="5.2"/><circle cx="598.7" cy="445.7" r="5.2"/><circle cx="639.8" cy="335.2" r="5.2"/><circle cx="554.9" cy="448.2" r="5.2"/><circle cx="554.9" cy="477.2" r="5.2"/><circle cx="629.0" cy="224.1" r="5.2"/><circle cx="554.1" cy="421.3" r="5.2"/><circle cx="582.2" cy="444.1" r="5.2"/><circle cx="649.5" cy="333.6" r="5.2"/><circle cx="553.6" cy="400.7" r="5.2"/><circle cx="636.5" cy="72.1" r="5.2"/><circle cx="628.5" cy="442.4" r="5.2"/><circle cx="552.4" cy="486.3" r="5.2"/><circle cx="550.8" cy="471.4" r="5.2"/><circle cx="622.8" cy="474.1" r="5.2"/><circle cx="641.3" cy="430.8" r="5.2"/><circle cx="616.9" cy="430.9" r="5.2"/><circle cx="612.8" cy="426.7" r="5.2"/><circle cx="608.7" cy="430.0" r="5.2"/><circle cx="606.2" cy="424.2" r="5.2"/><circle cx="599.6" cy="420.9" r="5.2"/><circle cx="599.1" cy="386.6" r="5.2"/><circle cx="597.5" cy="389.1" r="5.2"/><circle cx="601.6" cy="332.7" r="5.2"/><circle cx="599.1" cy="380.4" r="5.2"/><circle cx="596.3" cy="386.2" r="5.2"/><circle cx="595.4" cy="380.0" r="5.2"/><circle cx="596.7" cy="376.7" r="5.2"/><circle cx="603.3" cy="375.0" r="5.2"/><circle cx="592.9" cy="420.1" r="5.2"/><circle cx="632.8" cy="221.7" r="5.2"/><circle cx="592.1" cy="390.7" r="5.2"/><circle cx="592.1" cy="404.4" r="5.2"/><circle cx="591.3" cy="408.1" r="5.2"/><circle cx="591.3" cy="428.4" r="5.2"/><circle cx="592.5" cy="376.3" r="5.2"/><circle cx="596.7" cy="370.9" r="5.2"/><circle cx="595.0" cy="372.1" r="5.2"/><circle cx="606.2" cy="368.8" r="5.2"/><circle cx="588.8" cy="406.4" r="5.2"/><circle cx="586.7" cy="401.9" r="5.2"/><circle cx="588.8" cy="424.2" r="5.2"/><circle cx="586.3" cy="420.1" r="5.2"/><circle cx="585.9" cy="381.2" r="5.2"/><circle cx="584.7" cy="378.7" r="5.2"/><circle cx="597.9" cy="364.3" r="5.2"/><circle cx="584.3" cy="411.4" r="5.2"/><circle cx="614.0" cy="474.3" r="5.2"/><circle cx="602.5" cy="362.6" r="5.2"/><circle cx="584.3" cy="397.8" r="5.2"/><circle cx="581.8" cy="381.2" r="5.2"/><circle cx="579.3" cy="385.8" r="5.2"/><circle cx="581.8" cy="416.0" r="5.2"/><circle cx="619.8" cy="472.7" r="5.2"/><circle cx="628.5" cy="356.6" r="5.2"/><circle cx="596.7" cy="357.6" r="5.2"/><circle cx="601.5" cy="357.0" r="5.2"/><circle cx="582.2" cy="466.4" r="5.2"/><circle cx="575.6" cy="468.5" r="5.2"/><circle cx="587.2" cy="356.8" r="5.2"/><circle cx="583.8" cy="354.7" r="5.2"/><circle cx="586.3" cy="352.7" r="5.2"/><circle cx="588.4" cy="350.6" r="5.2"/><circle cx="625.2" cy="348.4" r="5.2"/><circle cx="573.1" cy="464.3" r="5.2"/><circle cx="585.1" cy="348.5" r="5.2"/><circle cx="628.1" cy="343.0" r="5.2"/><circle cx="561.9" cy="472.6" r="5.2"/><circle cx="559.0" cy="476.7" r="5.2"/><circle cx="631.0" cy="339.0" r="5.2"/><circle cx="636.2" cy="338.4" r="5.2"/>
</g>
<g font-family="'Liberation Sans',Arial,sans-serif" font-weight="700" font-size="35.5" fill="#000">
<text x="76.5" y="624.6" text-anchor="end">0</text>
<text x="76.5" y="433.5" text-anchor="end">2</text>
<text x="76.5" y="242.5" text-anchor="end">4</text>
<text x="76.5" y="51.4" text-anchor="end">6</text>
<text x="173.0" y="671.2" text-anchor="middle">-5</text>
<text x="531.3" y="671.2" text-anchor="middle">0</text>
<text x="889.3" y="671.2" text-anchor="middle">5</text>
</g>
<g font-family="'Liberation Serif','Times New Roman',serif" font-weight="700" fill="#000">
<text x="8.6" y="34.2" font-size="44">A</text>
<text x="533.4" y="722.9" font-size="28.2" text-anchor="middle" letter-spacing="1.9">log<tspan font-size="19.5" dy="7.2">2</tspan><tspan dy="-7.2">(T1/C1)</tspan></text>
<text transform="translate(28.5 442.0) rotate(-90)" font-size="29.8" letter-spacing="2.2"><tspan x="-10.5" dy="-1.2" font-weight="400" font-size="40">-</tspan><tspan x="11.8" dy="1.2">lo</tspan><tspan x="42.6">g</tspan><tspan x="59.3" dy="8" font-size="22.5" letter-spacing="1">10</tspan><tspan x="68.8" dy="-8" font-family="'Liberation Serif','Noto Serif CJK SC',serif">（</tspan><tspan x="117" font-size="32" font-style="italic">P</tspan><tspan x="137.3">-</tspan><tspan x="146.6" letter-spacing="2.3">value</tspan><tspan x="230.3" font-family="'Liberation Serif','Noto Serif CJK SC',serif">）</tspan></text>
</g>
<g stroke="#000" stroke-width="4.6" stroke-linecap="round" stroke-dasharray="0 14.55" fill="none">
<path d="M102.4 1281.3H961.2"/>
<path d="M493.8 832.5V1405.0"/>
<path d="M569.2 832.5V1405.0"/>
</g>
<g stroke="#000" stroke-width="2.6" fill="none" stroke-linecap="butt">
<path d="M82.4 831.8H962.5"/>
<path d="M102.4 831.8V1405.0"/>
<path d="M961.2 831.8V1405.0"/>
<path d="M82.4 1405.0H962.5"/>
<path d="M82.4 1213.9H102.4"/>
<path d="M82.4 1022.9H102.4"/>
<path d="M245.1 1405.0V1425.0"/>
<path d="M531.3 1405.0V1425.0"/>
<path d="M817.5 1405.0V1425.0"/>
</g>
<g fill="#04bd04">
<circle cx="339.1" cy="1063.5" r="5.2"/><circle cx="339.1" cy="1096.7" r="5.2"/><circle cx="426.1" cy="1254.7" r="5.2"/><circle cx="426.1" cy="1263.5" r="5.2"/><circle cx="437.3" cy="1163.5" r="5.2"/><circle cx="334.9" cy="1055.3" r="5.2"/><circle cx="315.6" cy="1221.9" r="5.2"/><circle cx="420.9" cy="1267.0" r="5.2"/><circle cx="332.2" cy="1077.6" r="5.2"/><circle cx="444.6" cy="1162.8" r="5.2"/><circle cx="435.2" cy="1156.3" r="5.2"/><circle cx="419.1" cy="1247.6" r="5.2"/><circle cx="429.7" cy="1244.1" r="5.2"/><circle cx="445.3" cy="1172.9" r="5.2"/><circle cx="431.4" cy="1279.3" r="5.2"/><circle cx="417.4" cy="1274.0" r="5.2"/><circle cx="351.5" cy="1099.2" r="5.2"/><circle cx="416.5" cy="1240.6" r="5.2"/><circle cx="435.8" cy="1276.6" r="5.2"/><circle cx="437.6" cy="1249.4" r="5.2"/><circle cx="429.4" cy="1158.5" r="5.2"/><circle cx="427.0" cy="1237.1" r="5.2"/><circle cx="433.2" cy="1237.1" r="5.2"/><circle cx="412.1" cy="1273.1" r="5.2"/><circle cx="428.6" cy="1169.3" r="5.2"/><circle cx="360.2" cy="1090.5" r="5.2"/><circle cx="360.7" cy="1056.5" r="5.2"/><circle cx="361.5" cy="1018.8" r="5.2"/><circle cx="440.2" cy="1267.0" r="5.2"/><circle cx="427.2" cy="1145.7" r="5.2"/><circle cx="366.9" cy="1021.3" r="5.2"/><circle cx="409.4" cy="1230.9" r="5.2"/><circle cx="442.8" cy="1230.9" r="5.2"/><circle cx="302.7" cy="1159.9" r="5.2"/><circle cx="403.6" cy="1230.6" r="5.2"/><circle cx="403.3" cy="1268.7" r="5.2"/><circle cx="421.7" cy="1116.9" r="5.2"/><circle cx="447.2" cy="1253.8" r="5.2"/><circle cx="372.6" cy="1059.0" r="5.2"/><circle cx="449.0" cy="1268.7" r="5.2"/><circle cx="419.9" cy="1146.9" r="5.2"/><circle cx="349.3" cy="1159.5" r="5.2"/><circle cx="449.9" cy="1245.9" r="5.2"/><circle cx="424.0" cy="1224.8" r="5.2"/><circle cx="443.7" cy="1224.8" r="5.2"/><circle cx="349.9" cy="1163.6" r="5.2"/><circle cx="377.1" cy="1075.6" r="5.2"/><circle cx="398.0" cy="1256.8" r="5.2"/><circle cx="452.5" cy="1263.5" r="5.2"/><circle cx="311.0" cy="1152.2" r="5.2"/><circle cx="354.0" cy="1168.8" r="5.2"/><circle cx="381.3" cy="1015.6" r="5.2"/><circle cx="454.3" cy="1281.0" r="5.2"/><circle cx="382.6" cy="1044.1" r="5.2"/><circle cx="455.2" cy="1238.0" r="5.2"/><circle cx="394.5" cy="1264.3" r="5.2"/><circle cx="456.0" cy="1274.0" r="5.2"/><circle cx="282.5" cy="1166.3" r="5.2"/><circle cx="446.4" cy="1217.7" r="5.2"/><circle cx="385.8" cy="1019.8" r="5.2"/><circle cx="309.6" cy="1146.6" r="5.2"/><circle cx="293.7" cy="1064.0" r="5.2"/><circle cx="457.8" cy="1259.9" r="5.2"/><circle cx="293.5" cy="1013.6" r="5.2"/><circle cx="392.7" cy="1216.9" r="5.2"/><circle cx="438.5" cy="1216.9" r="5.2"/><circle cx="359.2" cy="1200.4" r="5.2"/><circle cx="387.5" cy="1003.1" r="5.2"/><circle cx="313.1" cy="1262.3" r="5.2"/><circle cx="430.4" cy="1102.0" r="5.2"/><circle cx="401.5" cy="1216.0" r="5.2"/><circle cx="388.8" cy="1087.5" r="5.2"/><circle cx="459.5" cy="1217.7" r="5.2"/><circle cx="411.3" cy="1144.0" r="5.2"/><circle cx="411.3" cy="1171.8" r="5.2"/><circle cx="390.1" cy="1232.7" r="5.2"/><circle cx="390.1" cy="1273.1" r="5.2"/><circle cx="391.3" cy="1060.2" r="5.2"/><circle cx="461.3" cy="1274.9" r="5.2"/><circle cx="363.1" cy="1221.1" r="5.2"/><circle cx="388.3" cy="1240.6" r="5.2"/><circle cx="336.9" cy="1141.3" r="5.2"/><circle cx="409.4" cy="1139.3" r="5.2"/><circle cx="387.5" cy="1260.8" r="5.2"/><circle cx="393.7" cy="1004.4" r="5.2"/><circle cx="463.1" cy="1226.5" r="5.2"/><circle cx="463.1" cy="1267.0" r="5.2"/><circle cx="386.6" cy="1225.7" r="5.2"/><circle cx="405.9" cy="1211.1" r="5.2"/><circle cx="442.0" cy="1211.1" r="5.2"/><circle cx="284.5" cy="990.2" r="5.2"/><circle cx="396.2" cy="1085.1" r="5.2"/><circle cx="464.8" cy="1247.6" r="5.2"/><circle cx="396.7" cy="1060.2" r="5.2"/><circle cx="427.6" cy="1209.8" r="5.2"/><circle cx="392.7" cy="1209.8" r="5.2"/><circle cx="384.0" cy="1230.9" r="5.2"/><circle cx="383.1" cy="1220.9" r="5.2"/><circle cx="460.4" cy="1208.1" r="5.2"/><circle cx="347.2" cy="1135.3" r="5.2"/><circle cx="382.2" cy="1267.8" r="5.2"/><circle cx="400.7" cy="1075.1" r="5.2"/><circle cx="401.2" cy="1091.3" r="5.2"/><circle cx="371.4" cy="1175.0" r="5.2"/><circle cx="277.6" cy="1052.8" r="5.2"/><circle cx="469.2" cy="1240.6" r="5.2"/><circle cx="401.9" cy="977.1" r="5.2"/><circle cx="267.2" cy="1224.6" r="5.2"/><circle cx="470.1" cy="1225.7" r="5.2"/><circle cx="470.1" cy="1259.9" r="5.2"/><circle cx="477.4" cy="1174.4" r="5.2"/><circle cx="424.4" cy="1204.6" r="5.2"/><circle cx="402.3" cy="1108.2" r="5.2"/><circle cx="417.8" cy="1091.9" r="5.2"/><circle cx="378.7" cy="1276.1" r="5.2"/><circle cx="324.4" cy="1128.4" r="5.2"/><circle cx="335.8" cy="1127.4" r="5.2"/><circle cx="480.3" cy="1153.1" r="5.2"/><circle cx="413.8" cy="1201.0" r="5.2"/><circle cx="403.7" cy="970.4" r="5.2"/><circle cx="475.0" cy="1212.8" r="5.2"/><circle cx="475.4" cy="1265.2" r="5.2"/><circle cx="379.7" cy="1179.1" r="5.2"/><circle cx="403.3" cy="1199.3" r="5.2"/><circle cx="423.3" cy="1087.5" r="5.2"/><circle cx="373.1" cy="1123.9" r="5.2"/><circle cx="381.3" cy="1150.8" r="5.2"/><circle cx="381.3" cy="1196.7" r="5.2"/><circle cx="396.8" cy="1162.1" r="5.2"/><circle cx="390.1" cy="1197.5" r="5.2"/><circle cx="414.8" cy="1085.1" r="5.2"/><circle cx="478.0" cy="1243.2" r="5.2"/><circle cx="478.9" cy="1254.7" r="5.2"/><circle cx="417.3" cy="1054.5" r="5.2"/><circle cx="394.6" cy="1145.9" r="5.2"/><circle cx="407.7" cy="1194.9" r="5.2"/><circle cx="449.9" cy="1194.9" r="5.2"/><circle cx="369.0" cy="1259.1" r="5.2"/><circle cx="463.1" cy="1193.1" r="5.2"/><circle cx="420.5" cy="1070.2" r="5.2"/><circle cx="366.7" cy="1252.9" r="5.2"/><circle cx="450.8" cy="1191.4" r="5.2"/><circle cx="483.8" cy="1219.5" r="5.2"/><circle cx="488.7" cy="1177.3" r="5.2"/><circle cx="484.5" cy="1276.6" r="5.2"/><circle cx="248.5" cy="1134.6" r="5.2"/><circle cx="391.7" cy="1221.5" r="5.2"/><circle cx="389.8" cy="1108.5" r="5.2"/><circle cx="485.9" cy="1225.7" r="5.2"/><circle cx="361.7" cy="1112.5" r="5.2"/><circle cx="393.7" cy="1229.8" r="5.2"/><circle cx="488.6" cy="1236.2" r="5.2"/><circle cx="489.4" cy="1246.8" r="5.2"/><circle cx="409.1" cy="1184.7" r="5.2"/><circle cx="357.6" cy="1245.9" r="5.2"/><circle cx="449.2" cy="1073.8" r="5.2"/><circle cx="239.2" cy="1116.0" r="5.2"/><circle cx="493.8" cy="1252.9" r="5.2"/><circle cx="437.7" cy="1064.0" r="5.2"/><circle cx="355.8" cy="1238.8" r="5.2"/><circle cx="410.4" cy="941.8" r="5.2"/><circle cx="443.7" cy="1176.4" r="5.2"/><circle cx="345.7" cy="1272.2" r="5.2"/><circle cx="344.4" cy="1268.7" r="5.2"/><circle cx="419.6" cy="1225.6" r="5.2"/><circle cx="450.8" cy="1266.1" r="5.2"/><circle cx="452.5" cy="1271.4" r="5.2"/><circle cx="455.2" cy="1261.7" r="5.2"/><circle cx="460.4" cy="1263.5" r="5.2"/><circle cx="397.1" cy="1216.4" r="5.2"/><circle cx="388.3" cy="1229.2" r="5.2"/><circle cx="387.0" cy="1231.8" r="5.2"/><circle cx="385.3" cy="1228.3" r="5.2"/><circle cx="384.8" cy="1223.3" r="5.2"/><circle cx="389.1" cy="1223.6" r="5.2"/><circle cx="390.2" cy="1227.7" r="5.2"/><circle cx="387.4" cy="1221.2" r="5.2"/><circle cx="392.7" cy="1225.6" r="5.2"/>
</g>
<g fill="#676767">
<circle cx="359.8" cy="1339.9" r="5.2"/><circle cx="469.5" cy="1374.9" r="5.2"/><circle cx="589.5" cy="1376.3" r="5.2"/><circle cx="468.0" cy="1363.3" r="5.2"/><circle cx="469.5" cy="1343.0" r="5.2"/><circle cx="468.0" cy="1353.2" r="5.2"/><circle cx="588.0" cy="1361.9" r="5.2"/><circle cx="592.4" cy="1353.2" r="5.2"/><circle cx="586.6" cy="1369.1" r="5.2"/><circle cx="593.8" cy="1369.1" r="5.2"/><circle cx="585.2" cy="1340.2" r="5.2"/><circle cx="585.2" cy="1347.4" r="5.2"/><circle cx="585.2" cy="1354.6" r="5.2"/><circle cx="418.8" cy="1281.4" r="5.2"/><circle cx="475.3" cy="1373.5" r="5.2"/><circle cx="595.3" cy="1361.9" r="5.2"/><circle cx="464.4" cy="1378.5" r="5.2"/><circle cx="713.6" cy="1339.8" r="5.2"/><circle cx="592.4" cy="1338.7" r="5.2"/><circle cx="583.7" cy="1386.5" r="5.2"/><circle cx="476.7" cy="1344.5" r="5.2"/><circle cx="476.7" cy="1355.4" r="5.2"/><circle cx="596.7" cy="1356.8" r="5.2"/><circle cx="596.7" cy="1376.3" r="5.2"/><circle cx="850.4" cy="1356.2" r="5.2"/><circle cx="462.3" cy="1366.2" r="5.2"/><circle cx="582.3" cy="1376.3" r="5.2"/><circle cx="710.0" cy="1351.4" r="5.2"/><circle cx="435.8" cy="1293.3" r="5.2"/><circle cx="460.8" cy="1335.8" r="5.2"/><circle cx="460.8" cy="1356.1" r="5.2"/><circle cx="580.8" cy="1361.9" r="5.2"/><circle cx="479.6" cy="1335.8" r="5.2"/><circle cx="814.8" cy="1289.2" r="5.2"/><circle cx="579.4" cy="1369.1" r="5.2"/><circle cx="601.1" cy="1347.4" r="5.2"/><circle cx="465.2" cy="1332.9" r="5.2"/><circle cx="472.4" cy="1332.9" r="5.2"/><circle cx="580.8" cy="1332.9" r="5.2"/><circle cx="588.0" cy="1332.9" r="5.2"/><circle cx="593.8" cy="1332.9" r="5.2"/><circle cx="577.9" cy="1340.2" r="5.2"/><circle cx="577.9" cy="1347.4" r="5.2"/><circle cx="577.9" cy="1354.6" r="5.2"/><circle cx="577.9" cy="1383.6" r="5.2"/><circle cx="733.8" cy="1348.2" r="5.2"/><circle cx="482.5" cy="1373.5" r="5.2"/><circle cx="602.5" cy="1340.2" r="5.2"/><circle cx="602.5" cy="1361.9" r="5.2"/><circle cx="484.0" cy="1347.4" r="5.2"/><circle cx="484.0" cy="1356.1" r="5.2"/><circle cx="484.0" cy="1364.8" r="5.2"/><circle cx="604.0" cy="1377.8" r="5.2"/><circle cx="455.0" cy="1347.4" r="5.2"/><circle cx="575.0" cy="1376.3" r="5.2"/><circle cx="485.4" cy="1328.6" r="5.2"/><circle cx="453.6" cy="1338.7" r="5.2"/><circle cx="573.6" cy="1361.9" r="5.2"/><circle cx="701.2" cy="1366.4" r="5.2"/><circle cx="883.7" cy="1341.3" r="5.2"/><circle cx="486.9" cy="1338.7" r="5.2"/><circle cx="606.9" cy="1332.9" r="5.2"/><circle cx="597.5" cy="1327.8" r="5.2"/><circle cx="775.5" cy="1283.0" r="5.2"/><circle cx="572.1" cy="1369.1" r="5.2"/><circle cx="699.1" cy="1342.4" r="5.2"/><circle cx="451.4" cy="1356.1" r="5.2"/><circle cx="454.3" cy="1325.7" r="5.2"/><circle cx="479.6" cy="1325.7" r="5.2"/><circle cx="450.7" cy="1363.3" r="5.2"/><circle cx="580.8" cy="1325.7" r="5.2"/><circle cx="586.6" cy="1325.7" r="5.2"/><circle cx="605.4" cy="1325.7" r="5.2"/><circle cx="570.7" cy="1338.7" r="5.2"/><circle cx="570.7" cy="1347.4" r="5.2"/><circle cx="570.7" cy="1354.6" r="5.2"/><circle cx="570.7" cy="1383.6" r="5.2"/><circle cx="489.8" cy="1374.9" r="5.2"/><circle cx="609.8" cy="1340.2" r="5.2"/><circle cx="609.8" cy="1347.4" r="5.2"/><circle cx="609.8" cy="1361.9" r="5.2"/><circle cx="609.8" cy="1369.1" r="5.2"/><circle cx="697.1" cy="1351.0" r="5.2"/><circle cx="473.8" cy="1324.2" r="5.2"/><circle cx="491.2" cy="1348.8" r="5.2"/><circle cx="491.2" cy="1357.5" r="5.2"/><circle cx="491.2" cy="1366.2" r="5.2"/><circle cx="611.2" cy="1354.6" r="5.2"/><circle cx="448.5" cy="1330.0" r="5.2"/><circle cx="447.8" cy="1324.2" r="5.2"/><circle cx="447.8" cy="1350.3" r="5.2"/><circle cx="567.8" cy="1376.3" r="5.2"/><circle cx="452.5" cy="1290.7" r="5.2"/><circle cx="612.7" cy="1325.7" r="5.2"/><circle cx="567.1" cy="1324.9" r="5.2"/><circle cx="446.3" cy="1341.6" r="5.2"/><circle cx="566.3" cy="1361.9" r="5.2"/><circle cx="566.3" cy="1390.8" r="5.2"/><circle cx="566.3" cy="1398.1" r="5.2"/><circle cx="494.1" cy="1340.2" r="5.2"/><circle cx="614.1" cy="1332.9" r="5.2"/><circle cx="570.7" cy="1319.9" r="5.2"/><circle cx="564.9" cy="1369.1" r="5.2"/><circle cx="615.6" cy="1372.0" r="5.2"/><circle cx="393.6" cy="1281.4" r="5.2"/><circle cx="496.3" cy="1318.4" r="5.2"/><circle cx="489.8" cy="1318.4" r="5.2"/><circle cx="577.9" cy="1318.4" r="5.2"/><circle cx="585.2" cy="1318.4" r="5.2"/><circle cx="598.2" cy="1318.4" r="5.2"/><circle cx="605.4" cy="1318.4" r="5.2"/><circle cx="612.7" cy="1318.4" r="5.2"/><circle cx="563.4" cy="1332.9" r="5.2"/><circle cx="563.4" cy="1340.2" r="5.2"/><circle cx="563.4" cy="1347.4" r="5.2"/><circle cx="563.4" cy="1383.6" r="5.2"/><circle cx="715.0" cy="1314.3" r="5.2"/><circle cx="497.0" cy="1374.9" r="5.2"/><circle cx="617.0" cy="1340.2" r="5.2"/><circle cx="617.0" cy="1347.4" r="5.2"/><circle cx="617.0" cy="1361.9" r="5.2"/><circle cx="727.7" cy="1314.1" r="5.2"/><circle cx="689.1" cy="1335.8" r="5.2"/><circle cx="451.4" cy="1317.0" r="5.2"/><circle cx="442.0" cy="1321.3" r="5.2"/><circle cx="562.0" cy="1325.7" r="5.2"/><circle cx="498.5" cy="1330.0" r="5.2"/><circle cx="498.5" cy="1347.4" r="5.2"/><circle cx="498.5" cy="1356.1" r="5.2"/><circle cx="498.5" cy="1366.2" r="5.2"/><circle cx="618.5" cy="1354.6" r="5.2"/><circle cx="388.7" cy="1369.2" r="5.2"/><circle cx="560.5" cy="1317.0" r="5.2"/><circle cx="560.5" cy="1376.3" r="5.2"/><circle cx="560.5" cy="1398.1" r="5.2"/><circle cx="686.3" cy="1353.5" r="5.2"/><circle cx="499.9" cy="1322.8" r="5.2"/><circle cx="619.9" cy="1318.4" r="5.2"/><circle cx="619.9" cy="1325.7" r="5.2"/><circle cx="619.9" cy="1334.4" r="5.2"/><circle cx="730.7" cy="1310.5" r="5.2"/><circle cx="439.1" cy="1340.2" r="5.2"/><circle cx="439.1" cy="1352.5" r="5.2"/><circle cx="559.1" cy="1361.9" r="5.2"/><circle cx="559.1" cy="1390.8" r="5.2"/><circle cx="501.3" cy="1340.2" r="5.2"/><circle cx="501.3" cy="1383.6" r="5.2"/><circle cx="492.7" cy="1313.4" r="5.2"/><circle cx="573.6" cy="1312.6" r="5.2"/><circle cx="580.8" cy="1312.6" r="5.2"/><circle cx="588.0" cy="1312.6" r="5.2"/><circle cx="601.1" cy="1312.6" r="5.2"/><circle cx="557.6" cy="1332.9" r="5.2"/><circle cx="557.6" cy="1356.1" r="5.2"/><circle cx="557.6" cy="1369.1" r="5.2"/><circle cx="439.1" cy="1311.9" r="5.2"/><circle cx="595.3" cy="1311.9" r="5.2"/><circle cx="393.5" cy="1317.8" r="5.2"/><circle cx="476.7" cy="1311.2" r="5.2"/><circle cx="449.9" cy="1311.2" r="5.2"/><circle cx="614.1" cy="1311.2" r="5.2"/><circle cx="621.3" cy="1311.2" r="5.2"/><circle cx="556.2" cy="1340.2" r="5.2"/><circle cx="556.2" cy="1347.4" r="5.2"/><circle cx="556.2" cy="1383.6" r="5.2"/><circle cx="466.6" cy="1291.6" r="5.2"/><circle cx="504.2" cy="1332.9" r="5.2"/><circle cx="504.2" cy="1374.9" r="5.2"/><circle cx="504.2" cy="1392.3" r="5.2"/><circle cx="624.2" cy="1361.9" r="5.2"/><circle cx="680.5" cy="1332.8" r="5.2"/><circle cx="382.2" cy="1294.2" r="5.2"/><circle cx="468.8" cy="1309.7" r="5.2"/><circle cx="554.7" cy="1327.1" r="5.2"/><circle cx="679.7" cy="1306.4" r="5.2"/><circle cx="505.7" cy="1338.7" r="5.2"/><circle cx="505.7" cy="1357.5" r="5.2"/><circle cx="505.7" cy="1366.2" r="5.2"/><circle cx="625.7" cy="1319.9" r="5.2"/><circle cx="625.7" cy="1327.1" r="5.2"/><circle cx="625.7" cy="1354.6" r="5.2"/><circle cx="469.2" cy="1284.5" r="5.2"/><circle cx="433.3" cy="1328.6" r="5.2"/><circle cx="553.3" cy="1376.3" r="5.2"/><circle cx="553.3" cy="1398.1" r="5.2"/><circle cx="507.1" cy="1348.8" r="5.2"/><circle cx="627.1" cy="1311.9" r="5.2"/><circle cx="627.1" cy="1332.9" r="5.2"/><circle cx="677.2" cy="1313.8" r="5.2"/><circle cx="806.5" cy="1301.4" r="5.2"/><circle cx="564.2" cy="1307.1" r="5.2"/><circle cx="583.7" cy="1306.9" r="5.2"/><circle cx="551.9" cy="1354.6" r="5.2"/><circle cx="551.9" cy="1390.8" r="5.2"/><circle cx="676.4" cy="1302.2" r="5.2"/><circle cx="710.3" cy="1301.4" r="5.2"/><circle cx="508.6" cy="1383.6" r="5.2"/><circle cx="628.6" cy="1340.2" r="5.2"/><circle cx="431.1" cy="1325.7" r="5.2"/><circle cx="431.1" cy="1343.0" r="5.2"/><circle cx="601.1" cy="1306.1" r="5.2"/><circle cx="687.2" cy="1300.6" r="5.2"/><circle cx="675.6" cy="1353.5" r="5.2"/><circle cx="509.3" cy="1329.3" r="5.2"/><circle cx="550.4" cy="1334.4" r="5.2"/><circle cx="550.4" cy="1370.6" r="5.2"/><circle cx="674.7" cy="1342.8" r="5.2"/><circle cx="473.6" cy="1289.8" r="5.2"/><circle cx="510.0" cy="1351.7" r="5.2"/><circle cx="510.0" cy="1399.5" r="5.2"/><circle cx="400.0" cy="1372.1" r="5.2"/><circle cx="429.7" cy="1314.8" r="5.2"/><circle cx="549.7" cy="1311.5" r="5.2"/><circle cx="673.9" cy="1320.4" r="5.2"/><circle cx="466.6" cy="1304.0" r="5.2"/><circle cx="486.9" cy="1304.0" r="5.2"/><circle cx="443.4" cy="1304.0" r="5.2"/><circle cx="570.7" cy="1304.0" r="5.2"/><circle cx="595.3" cy="1304.0" r="5.2"/><circle cx="612.7" cy="1304.0" r="5.2"/><circle cx="619.9" cy="1304.0" r="5.2"/><circle cx="627.1" cy="1304.0" r="5.2"/><circle cx="549.0" cy="1341.6" r="5.2"/><circle cx="549.0" cy="1347.4" r="5.2"/><circle cx="549.0" cy="1383.6" r="5.2"/><circle cx="739.6" cy="1297.8" r="5.2"/><circle cx="511.5" cy="1374.9" r="5.2"/><circle cx="511.5" cy="1392.3" r="5.2"/><circle cx="631.5" cy="1348.8" r="5.2"/><circle cx="631.5" cy="1356.1" r="5.2"/><circle cx="512.2" cy="1324.2" r="5.2"/><circle cx="714.5" cy="1296.4" r="5.2"/><circle cx="768.7" cy="1329.5" r="5.2"/><circle cx="320.7" cy="1292.2" r="5.2"/><circle cx="512.9" cy="1357.5" r="5.2"/><circle cx="512.9" cy="1366.2" r="5.2"/><circle cx="632.9" cy="1305.4" r="5.2"/><circle cx="426.8" cy="1318.4" r="5.2"/><circle cx="403.7" cy="1310.6" r="5.2"/><circle cx="460.8" cy="1301.1" r="5.2"/><circle cx="546.1" cy="1376.3" r="5.2"/><circle cx="546.1" cy="1398.1" r="5.2"/><circle cx="669.8" cy="1312.2" r="5.2"/><circle cx="484.0" cy="1299.6" r="5.2"/><circle cx="492.7" cy="1299.6" r="5.2"/><circle cx="544.6" cy="1361.9" r="5.2"/><circle cx="544.6" cy="1390.8" r="5.2"/><circle cx="684.7" cy="1293.1" r="5.2"/><circle cx="668.1" cy="1321.3" r="5.2"/><circle cx="405.5" cy="1304.1" r="5.2"/><circle cx="515.8" cy="1384.3" r="5.2"/><circle cx="635.8" cy="1343.0" r="5.2"/><circle cx="405.8" cy="1318.6" r="5.2"/><circle cx="455.7" cy="1298.2" r="5.2"/><circle cx="543.2" cy="1369.1" r="5.2"/><circle cx="702.9" cy="1291.5" r="5.2"/><circle cx="517.3" cy="1399.5" r="5.2"/><circle cx="431.1" cy="1297.4" r="5.2"/><circle cx="638.0" cy="1370.6" r="5.2"/><circle cx="573.6" cy="1296.7" r="5.2"/><circle cx="580.8" cy="1296.7" r="5.2"/><circle cx="588.0" cy="1296.7" r="5.2"/><circle cx="595.3" cy="1296.7" r="5.2"/><circle cx="609.8" cy="1296.7" r="5.2"/><circle cx="617.0" cy="1296.7" r="5.2"/><circle cx="624.2" cy="1296.7" r="5.2"/><circle cx="631.5" cy="1296.7" r="5.2"/><circle cx="541.7" cy="1383.6" r="5.2"/><circle cx="518.7" cy="1356.1" r="5.2"/><circle cx="518.7" cy="1364.8" r="5.2"/><circle cx="518.7" cy="1390.8" r="5.2"/><circle cx="638.7" cy="1311.2" r="5.2"/><circle cx="638.7" cy="1318.4" r="5.2"/><circle cx="638.7" cy="1325.7" r="5.2"/><circle cx="638.7" cy="1348.8" r="5.2"/><circle cx="420.3" cy="1316.3" r="5.2"/><circle cx="420.3" cy="1341.6" r="5.2"/><circle cx="540.3" cy="1403.9" r="5.2"/><circle cx="663.2" cy="1304.7" r="5.2"/><circle cx="520.2" cy="1373.5" r="5.2"/><circle cx="640.2" cy="1363.3" r="5.2"/><circle cx="410.2" cy="1326.5" r="5.2"/><circle cx="539.5" cy="1354.6" r="5.2"/><circle cx="478.2" cy="1293.8" r="5.2"/><circle cx="498.5" cy="1293.8" r="5.2"/><circle cx="538.8" cy="1377.8" r="5.2"/><circle cx="538.8" cy="1398.1" r="5.2"/><circle cx="661.5" cy="1346.1" r="5.2"/><circle cx="661.5" cy="1353.5" r="5.2"/><circle cx="641.6" cy="1332.9" r="5.2"/><circle cx="641.6" cy="1374.9" r="5.2"/><circle cx="348.2" cy="1282.7" r="5.2"/><circle cx="537.4" cy="1390.8" r="5.2"/><circle cx="693.8" cy="1284.9" r="5.2"/><circle cx="489.4" cy="1289.8" r="5.2"/><circle cx="523.1" cy="1382.1" r="5.2"/><circle cx="643.1" cy="1340.2" r="5.2"/><circle cx="494.1" cy="1290.9" r="5.2"/><circle cx="415.9" cy="1326.4" r="5.2"/><circle cx="524.2" cy="1342.8" r="5.2"/><circle cx="524.5" cy="1399.5" r="5.2"/><circle cx="524.5" cy="1406.8" r="5.2"/><circle cx="582.3" cy="1290.2" r="5.2"/><circle cx="589.5" cy="1290.2" r="5.2"/><circle cx="612.7" cy="1290.2" r="5.2"/><circle cx="619.9" cy="1290.2" r="5.2"/><circle cx="637.3" cy="1290.2" r="5.2"/><circle cx="644.5" cy="1290.2" r="5.2"/><circle cx="567.8" cy="1289.5" r="5.2"/><circle cx="596.7" cy="1289.5" r="5.2"/><circle cx="534.5" cy="1385.0" r="5.2"/><circle cx="656.5" cy="1306.4" r="5.2"/><circle cx="656.5" cy="1322.1" r="5.2"/><circle cx="526.0" cy="1389.4" r="5.2"/><circle cx="646.0" cy="1321.3" r="5.2"/><circle cx="646.0" cy="1327.1" r="5.2"/><circle cx="504.2" cy="1288.8" r="5.2"/><circle cx="533.0" cy="1405.3" r="5.2"/><circle cx="654.9" cy="1294.8" r="5.2"/><circle cx="494.7" cy="1180.8" r="5.2"/><circle cx="647.4" cy="1296.7" r="5.2"/><circle cx="647.4" cy="1350.3" r="5.2"/><circle cx="648.9" cy="1334.4" r="5.2"/><circle cx="648.9" cy="1357.5" r="5.2"/><circle cx="530.9" cy="1401.0" r="5.2"/><circle cx="652.4" cy="1289.8" r="5.2"/><circle cx="651.6" cy="1283.2" r="5.2"/><circle cx="567.0" cy="1216.8" r="5.2"/><circle cx="498.2" cy="1268.7" r="5.2"/><circle cx="650.3" cy="1305.4" r="5.2"/><circle cx="650.3" cy="1341.6" r="5.2"/><circle cx="499.1" cy="1274.0" r="5.2"/><circle cx="564.9" cy="1283.7" r="5.2"/><circle cx="579.4" cy="1283.7" r="5.2"/><circle cx="586.6" cy="1283.7" r="5.2"/><circle cx="593.8" cy="1283.7" r="5.2"/><circle cx="601.1" cy="1283.7" r="5.2"/><circle cx="608.3" cy="1283.7" r="5.2"/><circle cx="615.6" cy="1283.7" r="5.2"/><circle cx="622.8" cy="1283.7" r="5.2"/><circle cx="637.3" cy="1283.7" r="5.2"/><circle cx="644.5" cy="1283.7" r="5.2"/><circle cx="649.9" cy="1301.4" r="5.2"/><circle cx="649.9" cy="1309.7" r="5.2"/><circle cx="572.1" cy="1283.0" r="5.2"/><circle cx="630.0" cy="1283.0" r="5.2"/><circle cx="533.2" cy="1389.4" r="5.2"/><circle cx="653.2" cy="1319.9" r="5.2"/><circle cx="654.6" cy="1311.2" r="5.2"/><circle cx="561.2" cy="1269.8" r="5.2"/><circle cx="505.3" cy="1217.7" r="5.2"/><circle cx="656.1" cy="1335.8" r="5.2"/><circle cx="567.3" cy="1132.1" r="5.2"/><circle cx="657.5" cy="1290.9" r="5.2"/><circle cx="657.5" cy="1344.5" r="5.2"/><circle cx="642.5" cy="1306.4" r="5.2"/><circle cx="658.3" cy="1283.7" r="5.2"/><circle cx="659.0" cy="1318.4" r="5.2"/><circle cx="800.0" cy="1302.2" r="5.2"/><circle cx="588.0" cy="1372.7" r="5.2"/><circle cx="591.7" cy="1372.7" r="5.2"/><circle cx="585.9" cy="1376.3" r="5.2"/><circle cx="465.2" cy="1364.8" r="5.2"/><circle cx="473.1" cy="1343.8" r="5.2"/><circle cx="472.4" cy="1354.3" r="5.2"/><circle cx="464.4" cy="1354.6" r="5.2"/><circle cx="587.3" cy="1365.5" r="5.2"/><circle cx="590.9" cy="1365.5" r="5.2"/><circle cx="586.6" cy="1358.2" r="5.2"/><circle cx="591.7" cy="1361.9" r="5.2"/><circle cx="584.4" cy="1361.9" r="5.2"/><circle cx="588.8" cy="1350.3" r="5.2"/><circle cx="588.8" cy="1353.9" r="5.2"/><circle cx="593.8" cy="1357.5" r="5.2"/><circle cx="594.6" cy="1355.0" r="5.2"/><circle cx="590.2" cy="1369.1" r="5.2"/><circle cx="584.4" cy="1372.7" r="5.2"/><circle cx="583.7" cy="1365.5" r="5.2"/><circle cx="583.0" cy="1369.1" r="5.2"/><circle cx="594.6" cy="1365.5" r="5.2"/><circle cx="585.2" cy="1343.8" r="5.2"/><circle cx="588.8" cy="1339.4" r="5.2"/><circle cx="583.0" cy="1336.5" r="5.2"/><circle cx="586.6" cy="1336.5" r="5.2"/><circle cx="581.5" cy="1340.2" r="5.2"/><circle cx="585.2" cy="1351.0" r="5.2"/><circle cx="581.5" cy="1347.4" r="5.2"/><circle cx="583.0" cy="1358.2" r="5.2"/><circle cx="581.5" cy="1354.6" r="5.2"/><circle cx="598.9" cy="1361.9" r="5.2"/><circle cx="590.2" cy="1335.8" r="5.2"/><circle cx="593.1" cy="1335.8" r="5.2"/><circle cx="478.2" cy="1340.2" r="5.2"/><circle cx="480.4" cy="1345.9" r="5.2"/><circle cx="480.4" cy="1355.7" r="5.2"/><circle cx="599.6" cy="1359.3" r="5.2"/><circle cx="580.8" cy="1372.7" r="5.2"/><circle cx="580.1" cy="1380.0" r="5.2"/><circle cx="578.6" cy="1376.3" r="5.2"/><circle cx="580.1" cy="1365.5" r="5.2"/><circle cx="579.4" cy="1358.2" r="5.2"/><circle cx="577.2" cy="1361.9" r="5.2"/><circle cx="476.0" cy="1334.4" r="5.2"/><circle cx="482.5" cy="1332.2" r="5.2"/><circle cx="483.2" cy="1337.3" r="5.2"/><circle cx="577.2" cy="1372.7" r="5.2"/><circle cx="576.5" cy="1365.5" r="5.2"/><circle cx="575.7" cy="1369.1" r="5.2"/><circle cx="601.8" cy="1343.8" r="5.2"/><circle cx="605.4" cy="1347.4" r="5.2"/><circle cx="584.4" cy="1332.9" r="5.2"/><circle cx="579.4" cy="1336.5" r="5.2"/><circle cx="580.8" cy="1329.3" r="5.2"/><circle cx="583.7" cy="1329.3" r="5.2"/><circle cx="590.9" cy="1332.9" r="5.2"/><circle cx="587.3" cy="1329.3" r="5.2"/><circle cx="595.6" cy="1330.4" r="5.2"/><circle cx="577.9" cy="1343.8" r="5.2"/><circle cx="574.3" cy="1339.4" r="5.2"/><circle cx="577.9" cy="1351.0" r="5.2"/><circle cx="574.3" cy="1347.4" r="5.2"/><circle cx="575.7" cy="1358.2" r="5.2"/><circle cx="574.3" cy="1354.6" r="5.2"/><circle cx="576.5" cy="1380.0" r="5.2"/><circle cx="574.3" cy="1383.6" r="5.2"/><circle cx="604.7" cy="1336.5" r="5.2"/><circle cx="606.1" cy="1340.2" r="5.2"/><circle cx="606.1" cy="1361.9" r="5.2"/><circle cx="484.0" cy="1351.7" r="5.2"/><circle cx="485.4" cy="1343.0" r="5.2"/><circle cx="487.6" cy="1348.1" r="5.2"/><circle cx="484.0" cy="1360.4" r="5.2"/><circle cx="487.6" cy="1356.8" r="5.2"/><circle cx="487.6" cy="1365.5" r="5.2"/><circle cx="573.6" cy="1372.7" r="5.2"/><circle cx="572.8" cy="1380.0" r="5.2"/><circle cx="571.4" cy="1376.3" r="5.2"/><circle cx="482.5" cy="1327.1" r="5.2"/><circle cx="572.8" cy="1365.5" r="5.2"/><circle cx="572.1" cy="1358.2" r="5.2"/><circle cx="569.9" cy="1361.9" r="5.2"/><circle cx="490.5" cy="1339.4" r="5.2"/><circle cx="606.1" cy="1329.3" r="5.2"/><circle cx="608.3" cy="1336.5" r="5.2"/><circle cx="609.8" cy="1329.3" r="5.2"/><circle cx="610.5" cy="1332.9" r="5.2"/><circle cx="601.4" cy="1326.8" r="5.2"/><circle cx="597.8" cy="1323.1" r="5.2"/><circle cx="569.9" cy="1372.7" r="5.2"/><circle cx="569.2" cy="1365.5" r="5.2"/><circle cx="568.5" cy="1369.1" r="5.2"/><circle cx="583.7" cy="1325.7" r="5.2"/><circle cx="579.4" cy="1322.1" r="5.2"/><circle cx="583.0" cy="1322.1" r="5.2"/><circle cx="585.9" cy="1322.1" r="5.2"/><circle cx="609.0" cy="1325.7" r="5.2"/><circle cx="605.4" cy="1322.1" r="5.2"/><circle cx="570.7" cy="1343.0" r="5.2"/><circle cx="567.1" cy="1335.8" r="5.2"/><circle cx="567.1" cy="1339.4" r="5.2"/><circle cx="570.7" cy="1351.0" r="5.2"/><circle cx="567.1" cy="1347.4" r="5.2"/><circle cx="568.5" cy="1358.2" r="5.2"/><circle cx="569.2" cy="1380.0" r="5.2"/><circle cx="568.5" cy="1387.2" r="5.2"/><circle cx="567.1" cy="1383.6" r="5.2"/><circle cx="490.5" cy="1370.6" r="5.2"/><circle cx="493.4" cy="1374.9" r="5.2"/><circle cx="609.8" cy="1343.8" r="5.2"/><circle cx="611.9" cy="1336.5" r="5.2"/><circle cx="613.4" cy="1340.2" r="5.2"/><circle cx="610.5" cy="1351.0" r="5.2"/><circle cx="613.4" cy="1347.4" r="5.2"/><circle cx="609.8" cy="1365.5" r="5.2"/><circle cx="610.5" cy="1358.2" r="5.2"/><circle cx="613.4" cy="1361.9" r="5.2"/><circle cx="491.2" cy="1353.2" r="5.2"/><circle cx="492.7" cy="1344.5" r="5.2"/><circle cx="494.8" cy="1348.1" r="5.2"/><circle cx="491.2" cy="1361.9" r="5.2"/><circle cx="494.8" cy="1356.8" r="5.2"/><circle cx="494.8" cy="1366.2" r="5.2"/><circle cx="614.1" cy="1351.0" r="5.2"/><circle cx="614.1" cy="1358.2" r="5.2"/><circle cx="614.8" cy="1354.6" r="5.2"/><circle cx="566.3" cy="1372.7" r="5.2"/><circle cx="565.6" cy="1380.0" r="5.2"/><circle cx="564.2" cy="1376.3" r="5.2"/><circle cx="613.4" cy="1329.3" r="5.2"/><circle cx="612.7" cy="1322.1" r="5.2"/><circle cx="616.3" cy="1325.7" r="5.2"/><circle cx="568.9" cy="1322.4" r="5.2"/><circle cx="565.2" cy="1328.9" r="5.2"/><circle cx="565.6" cy="1365.5" r="5.2"/><circle cx="562.7" cy="1361.9" r="5.2"/><circle cx="564.9" cy="1387.2" r="5.2"/><circle cx="563.4" cy="1394.4" r="5.2"/><circle cx="562.7" cy="1390.8" r="5.2"/><circle cx="496.3" cy="1343.8" r="5.2"/><circle cx="497.7" cy="1340.2" r="5.2"/><circle cx="615.6" cy="1336.5" r="5.2"/><circle cx="617.0" cy="1329.3" r="5.2"/><circle cx="617.0" cy="1333.6" r="5.2"/><circle cx="574.3" cy="1319.2" r="5.2"/><circle cx="572.1" cy="1316.3" r="5.2"/><circle cx="562.7" cy="1372.7" r="5.2"/><circle cx="562.0" cy="1365.5" r="5.2"/><circle cx="561.3" cy="1369.1" r="5.2"/><circle cx="581.5" cy="1318.4" r="5.2"/><circle cx="575.7" cy="1315.5" r="5.2"/><circle cx="579.4" cy="1315.5" r="5.2"/><circle cx="583.0" cy="1315.5" r="5.2"/><circle cx="586.6" cy="1315.5" r="5.2"/><circle cx="601.8" cy="1318.4" r="5.2"/><circle cx="599.6" cy="1315.5" r="5.2"/><circle cx="596.7" cy="1315.2" r="5.2"/><circle cx="609.0" cy="1318.4" r="5.2"/><circle cx="603.2" cy="1315.5" r="5.2"/><circle cx="616.3" cy="1318.4" r="5.2"/><circle cx="613.4" cy="1314.8" r="5.2"/><circle cx="563.4" cy="1336.5" r="5.2"/><circle cx="562.7" cy="1329.3" r="5.2"/><circle cx="560.5" cy="1332.9" r="5.2"/><circle cx="563.4" cy="1343.8" r="5.2"/><circle cx="560.5" cy="1336.5" r="5.2"/><circle cx="559.8" cy="1340.2" r="5.2"/><circle cx="559.8" cy="1347.4" r="5.2"/><circle cx="562.0" cy="1380.0" r="5.2"/><circle cx="561.3" cy="1387.2" r="5.2"/><circle cx="559.8" cy="1383.6" r="5.2"/><circle cx="497.7" cy="1370.6" r="5.2"/><circle cx="500.6" cy="1374.9" r="5.2"/><circle cx="617.0" cy="1343.8" r="5.2"/><circle cx="618.5" cy="1337.3" r="5.2"/><circle cx="617.7" cy="1351.0" r="5.2"/><circle cx="617.7" cy="1358.2" r="5.2"/><circle cx="561.3" cy="1321.3" r="5.2"/><circle cx="559.8" cy="1329.3" r="5.2"/><circle cx="558.4" cy="1326.4" r="5.2"/><circle cx="499.2" cy="1326.4" r="5.2"/><circle cx="501.3" cy="1331.5" r="5.2"/><circle cx="498.5" cy="1351.7" r="5.2"/><circle cx="499.9" cy="1343.8" r="5.2"/><circle cx="502.8" cy="1348.1" r="5.2"/><circle cx="502.1" cy="1356.8" r="5.2"/><circle cx="502.1" cy="1366.2" r="5.2"/><circle cx="622.1" cy="1354.6" r="5.2"/><circle cx="559.1" cy="1372.7" r="5.2"/><circle cx="558.4" cy="1380.0" r="5.2"/><circle cx="556.9" cy="1376.3" r="5.2"/><circle cx="559.8" cy="1394.4" r="5.2"/><circle cx="556.9" cy="1398.1" r="5.2"/><circle cx="619.9" cy="1322.1" r="5.2"/><circle cx="617.0" cy="1314.8" r="5.2"/><circle cx="620.6" cy="1314.8" r="5.2"/><circle cx="622.8" cy="1319.2" r="5.2"/><circle cx="619.9" cy="1330.0" r="5.2"/><circle cx="622.8" cy="1322.8" r="5.2"/><circle cx="622.8" cy="1326.4" r="5.2"/><circle cx="622.8" cy="1330.7" r="5.2"/><circle cx="623.5" cy="1333.6" r="5.2"/><circle cx="558.4" cy="1359.0" r="5.2"/><circle cx="558.4" cy="1365.5" r="5.2"/><circle cx="557.6" cy="1387.2" r="5.2"/><circle cx="556.2" cy="1394.4" r="5.2"/><circle cx="555.5" cy="1390.8" r="5.2"/><circle cx="502.8" cy="1336.5" r="5.2"/><circle cx="577.2" cy="1312.6" r="5.2"/><circle cx="584.4" cy="1312.6" r="5.2"/><circle cx="582.3" cy="1309.7" r="5.2"/><circle cx="591.7" cy="1312.3" r="5.2"/><circle cx="585.9" cy="1309.7" r="5.2"/><circle cx="598.2" cy="1312.3" r="5.2"/><circle cx="601.1" cy="1309.4" r="5.2"/><circle cx="556.9" cy="1336.5" r="5.2"/><circle cx="556.2" cy="1330.0" r="5.2"/><circle cx="556.9" cy="1351.7" r="5.2"/><circle cx="554.7" cy="1355.4" r="5.2"/><circle cx="555.5" cy="1372.7" r="5.2"/><circle cx="554.0" cy="1369.8" r="5.2"/><circle cx="598.2" cy="1309.0" r="5.2"/><circle cx="595.3" cy="1307.9" r="5.2"/><circle cx="617.7" cy="1311.2" r="5.2"/><circle cx="613.4" cy="1307.6" r="5.2"/><circle cx="617.0" cy="1307.6" r="5.2"/><circle cx="624.2" cy="1311.6" r="5.2"/><circle cx="620.6" cy="1307.6" r="5.2"/><circle cx="624.2" cy="1307.6" r="5.2"/><circle cx="556.2" cy="1343.8" r="5.2"/><circle cx="552.6" cy="1340.9" r="5.2"/><circle cx="554.0" cy="1351.0" r="5.2"/><circle cx="552.6" cy="1344.5" r="5.2"/><circle cx="552.6" cy="1347.4" r="5.2"/><circle cx="554.7" cy="1380.0" r="5.2"/><circle cx="554.0" cy="1387.2" r="5.2"/><circle cx="552.6" cy="1383.6" r="5.2"/><circle cx="505.0" cy="1335.8" r="5.2"/><circle cx="506.8" cy="1331.1" r="5.2"/><circle cx="505.0" cy="1370.6" r="5.2"/><circle cx="507.9" cy="1374.9" r="5.2"/><circle cx="505.7" cy="1361.9" r="5.2"/><circle cx="506.4" cy="1353.2" r="5.2"/><circle cx="507.9" cy="1354.6" r="5.2"/><circle cx="509.3" cy="1357.5" r="5.2"/><circle cx="509.3" cy="1366.2" r="5.2"/><circle cx="625.7" cy="1323.5" r="5.2"/><circle cx="626.4" cy="1315.9" r="5.2"/><circle cx="626.4" cy="1330.0" r="5.2"/><circle cx="628.6" cy="1351.7" r="5.2"/><circle cx="628.6" cy="1355.4" r="5.2"/><circle cx="551.9" cy="1373.5" r="5.2"/><circle cx="551.1" cy="1380.0" r="5.2"/><circle cx="549.7" cy="1376.3" r="5.2"/><circle cx="552.6" cy="1394.4" r="5.2"/><circle cx="549.7" cy="1398.1" r="5.2"/><circle cx="627.1" cy="1307.9" r="5.2"/><circle cx="630.0" cy="1308.7" r="5.2"/><circle cx="627.9" cy="1336.5" r="5.2"/><circle cx="673.5" cy="1313.0" r="5.2"/><circle cx="550.4" cy="1351.0" r="5.2"/><circle cx="550.4" cy="1387.2" r="5.2"/><circle cx="549.0" cy="1394.4" r="5.2"/><circle cx="548.2" cy="1390.8" r="5.2"/><circle cx="510.0" cy="1379.2" r="5.2"/><circle cx="510.0" cy="1387.9" r="5.2"/><circle cx="512.2" cy="1383.9" r="5.2"/><circle cx="630.0" cy="1344.5" r="5.2"/><circle cx="632.2" cy="1341.6" r="5.2"/><circle cx="598.2" cy="1305.0" r="5.2"/><circle cx="548.2" cy="1373.5" r="5.2"/><circle cx="546.8" cy="1369.8" r="5.2"/><circle cx="511.5" cy="1354.6" r="5.2"/><circle cx="595.3" cy="1300.3" r="5.2"/><circle cx="616.3" cy="1304.0" r="5.2"/><circle cx="611.2" cy="1300.3" r="5.2"/><circle cx="614.8" cy="1300.3" r="5.2"/><circle cx="623.5" cy="1304.0" r="5.2"/><circle cx="618.5" cy="1300.3" r="5.2"/><circle cx="622.1" cy="1300.3" r="5.2"/><circle cx="630.0" cy="1304.7" r="5.2"/><circle cx="625.7" cy="1300.3" r="5.2"/><circle cx="549.0" cy="1344.5" r="5.2"/><circle cx="547.5" cy="1380.0" r="5.2"/><circle cx="546.8" cy="1387.2" r="5.2"/><circle cx="545.3" cy="1383.6" r="5.2"/><circle cx="512.2" cy="1370.6" r="5.2"/><circle cx="515.8" cy="1374.2" r="5.2"/><circle cx="513.7" cy="1388.3" r="5.2"/><circle cx="514.4" cy="1395.9" r="5.2"/><circle cx="515.1" cy="1391.5" r="5.2"/><circle cx="631.5" cy="1352.5" r="5.2"/><circle cx="633.7" cy="1345.9" r="5.2"/><circle cx="635.1" cy="1348.8" r="5.2"/><circle cx="512.9" cy="1361.9" r="5.2"/><circle cx="515.8" cy="1361.1" r="5.2"/><circle cx="515.8" cy="1365.5" r="5.2"/><circle cx="635.8" cy="1308.3" r="5.2"/><circle cx="544.6" cy="1372.7" r="5.2"/><circle cx="543.9" cy="1380.0" r="5.2"/><circle cx="542.4" cy="1377.1" r="5.2"/><circle cx="545.3" cy="1394.4" r="5.2"/><circle cx="542.4" cy="1398.1" r="5.2"/><circle cx="669.0" cy="1316.7" r="5.2"/><circle cx="543.2" cy="1387.2" r="5.2"/><circle cx="541.7" cy="1394.4" r="5.2"/><circle cx="541.0" cy="1390.8" r="5.2"/><circle cx="663.6" cy="1319.8" r="5.2"/><circle cx="517.3" cy="1387.6" r="5.2"/><circle cx="519.4" cy="1383.2" r="5.2"/><circle cx="637.3" cy="1345.9" r="5.2"/><circle cx="639.4" cy="1341.6" r="5.2"/><circle cx="518.0" cy="1395.2" r="5.2"/><circle cx="520.9" cy="1399.5" r="5.2"/><circle cx="584.4" cy="1296.7" r="5.2"/><circle cx="581.5" cy="1293.5" r="5.2"/><circle cx="591.7" cy="1296.7" r="5.2"/><circle cx="585.2" cy="1293.5" r="5.2"/><circle cx="588.8" cy="1293.5" r="5.2"/><circle cx="592.4" cy="1293.5" r="5.2"/><circle cx="596.0" cy="1293.1" r="5.2"/><circle cx="613.4" cy="1296.7" r="5.2"/><circle cx="611.2" cy="1293.5" r="5.2"/><circle cx="620.6" cy="1296.7" r="5.2"/><circle cx="614.8" cy="1293.5" r="5.2"/><circle cx="618.5" cy="1293.5" r="5.2"/><circle cx="622.1" cy="1293.5" r="5.2"/><circle cx="540.3" cy="1380.7" r="5.2"/><circle cx="539.5" cy="1387.2" r="5.2"/><circle cx="538.1" cy="1384.3" r="5.2"/><circle cx="519.4" cy="1369.1" r="5.2"/><circle cx="522.3" cy="1390.1" r="5.2"/><circle cx="640.6" cy="1308.8" r="5.2"/><circle cx="643.1" cy="1349.6" r="5.2"/><circle cx="521.6" cy="1377.8" r="5.2"/><circle cx="536.6" cy="1381.4" r="5.2"/><circle cx="538.1" cy="1394.4" r="5.2"/><circle cx="535.9" cy="1401.7" r="5.2"/><circle cx="534.8" cy="1399.5" r="5.2"/><circle cx="642.3" cy="1336.5" r="5.2"/><circle cx="643.8" cy="1330.0" r="5.2"/><circle cx="645.2" cy="1333.6" r="5.2"/><circle cx="535.9" cy="1387.9" r="5.2"/><circle cx="524.5" cy="1385.8" r="5.2"/><circle cx="646.0" cy="1337.3" r="5.2"/><circle cx="646.7" cy="1340.9" r="5.2"/><circle cx="527.7" cy="1400.2" r="5.2"/><circle cx="585.9" cy="1290.2" r="5.2"/><circle cx="584.4" cy="1286.9" r="5.2"/><circle cx="593.1" cy="1289.8" r="5.2"/><circle cx="588.0" cy="1286.9" r="5.2"/><circle cx="616.3" cy="1290.2" r="5.2"/><circle cx="640.9" cy="1290.2" r="5.2"/><circle cx="646.0" cy="1293.5" r="5.2"/><circle cx="648.5" cy="1290.0" r="5.2"/><circle cx="644.5" cy="1286.9" r="5.2"/><circle cx="530.2" cy="1387.2" r="5.2"/><circle cx="653.4" cy="1305.9" r="5.2"/><circle cx="653.2" cy="1303.9" r="5.2"/><circle cx="653.2" cy="1308.0" r="5.2"/><circle cx="529.6" cy="1389.4" r="5.2"/><circle cx="646.0" cy="1324.2" r="5.2"/><circle cx="649.6" cy="1320.6" r="5.2"/><circle cx="647.4" cy="1330.7" r="5.2"/><circle cx="651.1" cy="1295.7" r="5.2"/><circle cx="653.6" cy="1292.3" r="5.2"/><circle cx="652.4" cy="1298.1" r="5.2"/><circle cx="649.9" cy="1293.3" r="5.2"/><circle cx="648.9" cy="1301.1" r="5.2"/><circle cx="648.9" cy="1345.9" r="5.2"/><circle cx="649.6" cy="1338.0" r="5.2"/><circle cx="652.0" cy="1286.5" r="5.2"/><circle cx="648.0" cy="1283.4" r="5.2"/><circle cx="652.5" cy="1308.3" r="5.2"/><circle cx="646.4" cy="1305.9" r="5.2"/><circle cx="653.9" cy="1343.0" r="5.2"/><circle cx="649.9" cy="1305.5" r="5.2"/><circle cx="646.2" cy="1303.9" r="5.2"/><circle cx="646.2" cy="1308.0" r="5.2"/><circle cx="653.9" cy="1315.5" r="5.2"/><circle cx="656.1" cy="1319.2" r="5.2"/><circle cx="656.8" cy="1314.8" r="5.2"/>
</g>
<g fill="#fd0202">
<circle cx="689.9" cy="1092.8" r="5.2"/><circle cx="639.0" cy="1219.0" r="5.2"/><circle cx="801.8" cy="1235.5" r="5.2"/><circle cx="637.6" cy="1235.2" r="5.2"/><circle cx="637.6" cy="1263.3" r="5.2"/><circle cx="642.9" cy="1244.0" r="5.2"/><circle cx="683.7" cy="1145.0" r="5.2"/><circle cx="646.1" cy="1218.5" r="5.2"/><circle cx="646.4" cy="1251.0" r="5.2"/><circle cx="791.6" cy="1227.8" r="5.2"/><circle cx="647.3" cy="1229.9" r="5.2"/><circle cx="631.5" cy="1231.7" r="5.2"/><circle cx="630.6" cy="1245.8" r="5.2"/><circle cx="630.6" cy="1261.6" r="5.2"/><circle cx="649.9" cy="1259.8" r="5.2"/><circle cx="650.8" cy="1237.0" r="5.2"/><circle cx="673.2" cy="1116.0" r="5.2"/><circle cx="637.6" cy="1207.1" r="5.2"/><circle cx="784.8" cy="1215.2" r="5.2"/><circle cx="632.4" cy="1206.2" r="5.2"/><circle cx="625.3" cy="1240.5" r="5.2"/><circle cx="625.3" cy="1204.4" r="5.2"/><circle cx="650.3" cy="1204.1" r="5.2"/><circle cx="656.1" cy="1246.6" r="5.2"/><circle cx="623.6" cy="1222.0" r="5.2"/><circle cx="664.1" cy="1144.2" r="5.2"/><circle cx="657.0" cy="1235.2" r="5.2"/><circle cx="663.5" cy="1077.0" r="5.2"/><circle cx="717.3" cy="1079.7" r="5.2"/><circle cx="621.8" cy="1215.0" r="5.2"/><circle cx="621.8" cy="1247.5" r="5.2"/><circle cx="621.8" cy="1258.1" r="5.2"/><circle cx="660.5" cy="1215.0" r="5.2"/><circle cx="660.5" cy="1251.0" r="5.2"/><circle cx="636.8" cy="1199.2" r="5.2"/><circle cx="775.1" cy="1258.6" r="5.2"/><circle cx="661.4" cy="1207.1" r="5.2"/><circle cx="642.0" cy="1197.4" r="5.2"/><circle cx="617.4" cy="1208.8" r="5.2"/><circle cx="616.5" cy="1240.5" r="5.2"/><circle cx="827.6" cy="1224.7" r="5.2"/><circle cx="614.8" cy="1212.4" r="5.2"/><circle cx="614.8" cy="1253.7" r="5.2"/><circle cx="649.5" cy="1148.2" r="5.2"/><circle cx="666.6" cy="1251.0" r="5.2"/><circle cx="613.0" cy="1231.7" r="5.2"/><circle cx="667.5" cy="1221.1" r="5.2"/><circle cx="668.0" cy="1231.3" r="5.2"/><circle cx="611.3" cy="1190.4" r="5.2"/><circle cx="633.2" cy="1190.4" r="5.2"/><circle cx="670.2" cy="1262.5" r="5.2"/><circle cx="658.7" cy="1279.5" r="5.2"/><circle cx="608.6" cy="1221.1" r="5.2"/><circle cx="635.0" cy="1186.0" r="5.2"/><circle cx="614.8" cy="1276.0" r="5.2"/><circle cx="653.5" cy="1276.0" r="5.2"/><circle cx="605.1" cy="1235.2" r="5.2"/><circle cx="630.6" cy="1184.2" r="5.2"/><circle cx="603.7" cy="1203.0" r="5.2"/><circle cx="676.3" cy="1186.5" r="5.2"/><circle cx="633.4" cy="1126.7" r="5.2"/><circle cx="677.2" cy="1241.4" r="5.2"/><circle cx="632.6" cy="1113.8" r="5.2"/><circle cx="632.6" cy="1154.9" r="5.2"/><circle cx="602.5" cy="1186.9" r="5.2"/><circle cx="602.5" cy="1256.3" r="5.2"/><circle cx="602.5" cy="1274.2" r="5.2"/><circle cx="642.9" cy="1272.5" r="5.2"/><circle cx="632.1" cy="1108.4" r="5.2"/><circle cx="657.8" cy="1181.6" r="5.2"/><circle cx="600.7" cy="1227.3" r="5.2"/><circle cx="679.8" cy="1237.8" r="5.2"/><circle cx="613.0" cy="1269.0" r="5.2"/><circle cx="664.0" cy="1268.1" r="5.2"/><circle cx="645.5" cy="1177.2" r="5.2"/><circle cx="597.2" cy="1258.1" r="5.2"/><circle cx="648.2" cy="1267.2" r="5.2"/><circle cx="749.6" cy="1255.9" r="5.2"/><circle cx="651.7" cy="1176.3" r="5.2"/><circle cx="632.4" cy="1266.3" r="5.2"/><circle cx="595.4" cy="1218.5" r="5.2"/><circle cx="595.4" cy="1237.0" r="5.2"/><circle cx="620.5" cy="1119.2" r="5.2"/><circle cx="594.6" cy="1179.8" r="5.2"/><circle cx="606.0" cy="1264.6" r="5.2"/><circle cx="761.1" cy="1126.7" r="5.2"/><circle cx="592.8" cy="1223.8" r="5.2"/><circle cx="593.7" cy="1262.8" r="5.2"/><circle cx="687.7" cy="1204.4" r="5.2"/><circle cx="591.9" cy="1244.9" r="5.2"/><circle cx="616.5" cy="1261.9" r="5.2"/><circle cx="677.2" cy="1171.6" r="5.2"/><circle cx="615.1" cy="1154.9" r="5.2"/><circle cx="689.5" cy="1276.0" r="5.2"/><circle cx="625.3" cy="1260.2" r="5.2"/><circle cx="690.4" cy="1178.4" r="5.2"/><circle cx="690.4" cy="1267.2" r="5.2"/><circle cx="659.6" cy="1169.3" r="5.2"/><circle cx="690.7" cy="1208.8" r="5.2"/><circle cx="596.7" cy="1168.1" r="5.2"/><circle cx="630.2" cy="1167.5" r="5.2"/><circle cx="770.5" cy="1129.9" r="5.2"/><circle cx="693.9" cy="1215.0" r="5.2"/><circle cx="640.3" cy="1165.8" r="5.2"/><circle cx="736.2" cy="1199.7" r="5.2"/><circle cx="584.9" cy="1275.1" r="5.2"/><circle cx="696.9" cy="1165.8" r="5.2"/><circle cx="583.1" cy="1250.2" r="5.2"/><circle cx="676.0" cy="1161.7" r="5.2"/><circle cx="731.4" cy="1176.9" r="5.2"/><circle cx="686.0" cy="1161.4" r="5.2"/><circle cx="581.4" cy="1259.8" r="5.2"/><circle cx="581.4" cy="1254.9" r="5.2"/><circle cx="699.5" cy="1244.9" r="5.2"/><circle cx="579.6" cy="1271.6" r="5.2"/><circle cx="700.9" cy="1278.6" r="5.2"/><circle cx="632.7" cy="1158.7" r="5.2"/><circle cx="577.9" cy="1247.5" r="5.2"/><circle cx="726.9" cy="1242.3" r="5.2"/><circle cx="594.4" cy="1150.9" r="5.2"/><circle cx="726.3" cy="1202.4" r="5.2"/><circle cx="724.8" cy="1266.1" r="5.2"/><circle cx="575.2" cy="1258.4" r="5.2"/><circle cx="723.8" cy="1193.7" r="5.2"/><circle cx="590.4" cy="1128.1" r="5.2"/><circle cx="574.3" cy="1266.3" r="5.2"/><circle cx="722.3" cy="1165.6" r="5.2"/><circle cx="584.5" cy="1153.5" r="5.2"/><circle cx="587.7" cy="1145.5" r="5.2"/><circle cx="585.5" cy="1122.1" r="5.2"/><circle cx="571.7" cy="1231.7" r="5.2"/><circle cx="709.4" cy="1246.1" r="5.2"/><circle cx="709.7" cy="1261.6" r="5.2"/><circle cx="797.4" cy="1081.0" r="5.2"/><circle cx="687.7" cy="981.0" r="5.2"/><circle cx="714.9" cy="1257.2" r="5.2"/><circle cx="650.8" cy="1272.4" r="5.2"/><circle cx="711.1" cy="1265.0" r="5.2"/><circle cx="634.1" cy="1262.5" r="5.2"/><circle cx="635.0" cy="1264.8" r="5.2"/><circle cx="649.1" cy="1233.5" r="5.2"/><circle cx="626.2" cy="1259.8" r="5.2"/><circle cx="653.9" cy="1236.1" r="5.2"/><circle cx="637.2" cy="1203.1" r="5.2"/><circle cx="623.6" cy="1244.0" r="5.2"/><circle cx="618.3" cy="1250.6" r="5.2"/><circle cx="618.3" cy="1255.9" r="5.2"/><circle cx="619.2" cy="1260.0" r="5.2"/><circle cx="639.4" cy="1198.3" r="5.2"/><circle cx="635.0" cy="1194.8" r="5.2"/><circle cx="615.7" cy="1257.8" r="5.2"/><circle cx="645.5" cy="1269.8" r="5.2"/><circle cx="646.8" cy="1272.5" r="5.2"/><circle cx="609.5" cy="1266.8" r="5.2"/><circle cx="614.8" cy="1265.4" r="5.2"/><circle cx="649.5" cy="1269.8" r="5.2"/><circle cx="628.8" cy="1263.2" r="5.2"/><circle cx="620.9" cy="1261.0" r="5.2"/><circle cx="578.3" cy="1259.1" r="5.2"/><circle cx="578.3" cy="1256.6" r="5.2"/>
</g>
<g font-family="'Liberation Sans',Arial,sans-serif" font-weight="700" font-size="35.5" fill="#000">
<text x="76.5" y="1417.9" text-anchor="end">0</text>
<text x="76.5" y="1226.8" text-anchor="end">2</text>
<text x="76.5" y="1035.8" text-anchor="end">4</text>
<text x="76.5" y="844.7" text-anchor="end">6</text>
<text x="244.8" y="1464.5" text-anchor="middle">-2</text>
<text x="531.3" y="1464.5" text-anchor="middle">0</text>
<text x="817.5" y="1464.5" text-anchor="middle">2</text>
</g>
<g font-family="'Liberation Serif','Times New Roman',serif" font-weight="700" fill="#000">
<text x="8.6" y="827.5" font-size="44">B</text>
<text x="533.4" y="1516.2" font-size="28.2" text-anchor="middle" letter-spacing="1.9">log<tspan font-size="19.5" dy="7.2">2</tspan><tspan dy="-7.2">(T2/T1)</tspan></text>
<text transform="translate(28.5 1235.3) rotate(-90)" font-size="29.8" letter-spacing="2.2"><tspan x="-10.5" dy="-1.2" font-weight="400" font-size="40">-</tspan><tspan x="11.8" dy="1.2">lo</tspan><tspan x="42.6">g</tspan><tspan x="59.3" dy="8" font-size="22.5" letter-spacing="1">10</tspan><tspan x="68.8" dy="-8" font-family="'Liberation Serif','Noto Serif CJK SC',serif">（</tspan><tspan x="117" font-size="32" font-style="italic">P</tspan><tspan x="137.3">-</tspan><tspan x="146.6" letter-spacing="2.3">value</tspan><tspan x="230.3" font-family="'Liberation Serif','Noto Serif CJK SC',serif">）</tspan></text>
</g>
</svg></body></html>
